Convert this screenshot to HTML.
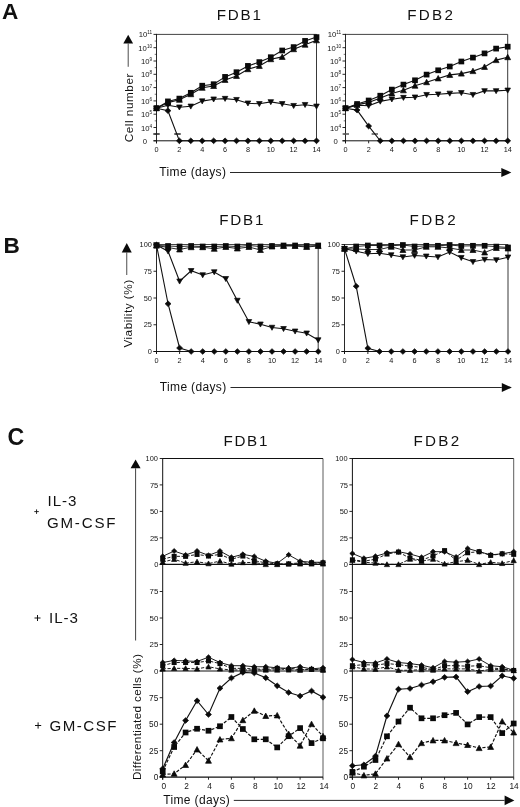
<!DOCTYPE html>
<html><head><meta charset="utf-8"><title>Figure</title>
<style>
html,body{margin:0;padding:0;background:#fff;}
body{width:520px;height:807px;overflow:hidden;font-family:'Liberation Sans', sans-serif;}
svg{display:block;filter:blur(0.3px);}
svg text{font-family:'Liberation Sans', sans-serif;}
</style></head>
<body>
<svg width="520" height="807" viewBox="0 0 520 807">
<rect x="0" y="0" width="520" height="807" fill="#ffffff"/>
<text x="1.90" y="18.80" font-size="22.6" text-anchor="start" font-weight="bold" fill="#111">A</text>
<text x="216.80" y="19.50" font-size="15.2" text-anchor="start" font-weight="normal" fill="#111" textLength="44.10" lengthAdjust="spacing">FDB1</text>
<text x="407.30" y="19.50" font-size="15.2" text-anchor="start" font-weight="normal" fill="#111" textLength="45.60" lengthAdjust="spacing">FDB2</text>
<line x1="156.50" y1="34.40" x2="316.50" y2="34.40" stroke="#222" stroke-width="0.85" />
<line x1="156.50" y1="33.90" x2="156.50" y2="143.30" stroke="#111" stroke-width="0.9" />
<line x1="316.50" y1="34.40" x2="316.50" y2="140.80" stroke="#222" stroke-width="0.9" />
<line x1="153.50" y1="140.80" x2="316.50" y2="140.80" stroke="#111" stroke-width="1.0" />
<line x1="153.50" y1="140.80" x2="156.50" y2="140.80" stroke="#111" stroke-width="0.9" />
<line x1="154.70" y1="134.15" x2="156.50" y2="134.15" stroke="#111" stroke-width="0.6" />
<text x="147.10" y="143.80" font-size="7.7" text-anchor="end" font-weight="normal" fill="#151515">0</text>
<line x1="153.50" y1="127.50" x2="156.50" y2="127.50" stroke="#111" stroke-width="0.9" />
<line x1="154.70" y1="120.85" x2="156.50" y2="120.85" stroke="#111" stroke-width="0.6" />
<text x="152.10" y="130.50" font-size="7.7" text-anchor="end" font-weight="normal" fill="#151515">10<tspan font-size="4.7" dy="-3.0">4</tspan></text>
<line x1="153.50" y1="114.20" x2="156.50" y2="114.20" stroke="#111" stroke-width="0.9" />
<line x1="154.70" y1="107.55" x2="156.50" y2="107.55" stroke="#111" stroke-width="0.6" />
<text x="152.10" y="117.20" font-size="7.7" text-anchor="end" font-weight="normal" fill="#151515">10<tspan font-size="4.7" dy="-3.0">5</tspan></text>
<line x1="153.50" y1="100.90" x2="156.50" y2="100.90" stroke="#111" stroke-width="0.9" />
<line x1="154.70" y1="94.25" x2="156.50" y2="94.25" stroke="#111" stroke-width="0.6" />
<text x="152.10" y="103.90" font-size="7.7" text-anchor="end" font-weight="normal" fill="#151515">10<tspan font-size="4.7" dy="-3.0">6</tspan></text>
<line x1="153.50" y1="87.60" x2="156.50" y2="87.60" stroke="#111" stroke-width="0.9" />
<line x1="154.70" y1="80.95" x2="156.50" y2="80.95" stroke="#111" stroke-width="0.6" />
<text x="152.10" y="90.60" font-size="7.7" text-anchor="end" font-weight="normal" fill="#151515">10<tspan font-size="4.7" dy="-3.0">7</tspan></text>
<line x1="153.50" y1="74.30" x2="156.50" y2="74.30" stroke="#111" stroke-width="0.9" />
<line x1="154.70" y1="67.65" x2="156.50" y2="67.65" stroke="#111" stroke-width="0.6" />
<text x="152.10" y="77.30" font-size="7.7" text-anchor="end" font-weight="normal" fill="#151515">10<tspan font-size="4.7" dy="-3.0">8</tspan></text>
<line x1="153.50" y1="61.00" x2="156.50" y2="61.00" stroke="#111" stroke-width="0.9" />
<line x1="154.70" y1="54.35" x2="156.50" y2="54.35" stroke="#111" stroke-width="0.6" />
<text x="152.10" y="64.00" font-size="7.7" text-anchor="end" font-weight="normal" fill="#151515">10<tspan font-size="4.7" dy="-3.0">9</tspan></text>
<line x1="153.50" y1="47.70" x2="156.50" y2="47.70" stroke="#111" stroke-width="0.9" />
<line x1="154.70" y1="41.05" x2="156.50" y2="41.05" stroke="#111" stroke-width="0.6" />
<text x="152.10" y="50.70" font-size="7.7" text-anchor="end" font-weight="normal" fill="#151515">10<tspan font-size="4.7" dy="-3.0">10</tspan></text>
<line x1="153.50" y1="34.40" x2="156.50" y2="34.40" stroke="#111" stroke-width="0.9" />
<text x="152.10" y="37.40" font-size="7.7" text-anchor="end" font-weight="normal" fill="#151515">10<tspan font-size="4.7" dy="-3.0">11</tspan></text>
<line x1="156.50" y1="140.80" x2="156.50" y2="143.30" stroke="#111" stroke-width="0.9" />
<text x="156.50" y="152.10" font-size="7.3" text-anchor="middle" font-weight="normal" fill="#151515">0</text>
<line x1="179.36" y1="140.80" x2="179.36" y2="143.30" stroke="#111" stroke-width="0.9" />
<text x="179.36" y="152.10" font-size="7.3" text-anchor="middle" font-weight="normal" fill="#151515">2</text>
<line x1="202.21" y1="140.80" x2="202.21" y2="143.30" stroke="#111" stroke-width="0.9" />
<text x="202.21" y="152.10" font-size="7.3" text-anchor="middle" font-weight="normal" fill="#151515">4</text>
<line x1="225.07" y1="140.80" x2="225.07" y2="143.30" stroke="#111" stroke-width="0.9" />
<text x="225.07" y="152.10" font-size="7.3" text-anchor="middle" font-weight="normal" fill="#151515">6</text>
<line x1="247.93" y1="140.80" x2="247.93" y2="143.30" stroke="#111" stroke-width="0.9" />
<text x="247.93" y="152.10" font-size="7.3" text-anchor="middle" font-weight="normal" fill="#151515">8</text>
<line x1="270.79" y1="140.80" x2="270.79" y2="143.30" stroke="#111" stroke-width="0.9" />
<text x="270.79" y="152.10" font-size="7.3" text-anchor="middle" font-weight="normal" fill="#151515">10</text>
<line x1="293.64" y1="140.80" x2="293.64" y2="143.30" stroke="#111" stroke-width="0.9" />
<text x="293.64" y="152.10" font-size="7.3" text-anchor="middle" font-weight="normal" fill="#151515">12</text>
<line x1="316.50" y1="140.80" x2="316.50" y2="143.30" stroke="#111" stroke-width="0.9" />
<text x="316.50" y="152.10" font-size="7.3" text-anchor="middle" font-weight="normal" fill="#151515">14</text>
<line x1="153.30" y1="134.00" x2="159.70" y2="134.00" stroke="#222" stroke-width="1.5" />
<line x1="174.30" y1="134.00" x2="180.70" y2="134.00" stroke="#222" stroke-width="1.5" />
<path d="M156.50 108.20L167.93 105.30L179.36 107.20L190.79 106.30L202.21 101.10L213.64 99.20L225.07 98.60L236.50 99.70L247.93 103.20L259.36 103.80L270.79 101.90L282.21 103.80L293.64 105.70L305.07 104.70L316.50 106.30" fill="none" stroke="#111" stroke-width="1.1"/>
<path d="M153.70 105.96L159.30 105.96L156.50 111.00Z" fill="#0a0a0a" stroke="#0a0a0a" stroke-width="0.7" stroke-linejoin="round"/>
<path d="M165.13 103.06L170.73 103.06L167.93 108.10Z" fill="#0a0a0a" stroke="#0a0a0a" stroke-width="0.7" stroke-linejoin="round"/>
<path d="M176.56 104.96L182.16 104.96L179.36 110.00Z" fill="#0a0a0a" stroke="#0a0a0a" stroke-width="0.7" stroke-linejoin="round"/>
<path d="M187.99 104.06L193.59 104.06L190.79 109.10Z" fill="#0a0a0a" stroke="#0a0a0a" stroke-width="0.7" stroke-linejoin="round"/>
<path d="M199.41 98.86L205.01 98.86L202.21 103.90Z" fill="#0a0a0a" stroke="#0a0a0a" stroke-width="0.7" stroke-linejoin="round"/>
<path d="M210.84 96.96L216.44 96.96L213.64 102.00Z" fill="#0a0a0a" stroke="#0a0a0a" stroke-width="0.7" stroke-linejoin="round"/>
<path d="M222.27 96.36L227.87 96.36L225.07 101.40Z" fill="#0a0a0a" stroke="#0a0a0a" stroke-width="0.7" stroke-linejoin="round"/>
<path d="M233.70 97.46L239.30 97.46L236.50 102.50Z" fill="#0a0a0a" stroke="#0a0a0a" stroke-width="0.7" stroke-linejoin="round"/>
<path d="M245.13 100.96L250.73 100.96L247.93 106.00Z" fill="#0a0a0a" stroke="#0a0a0a" stroke-width="0.7" stroke-linejoin="round"/>
<path d="M256.56 101.56L262.16 101.56L259.36 106.60Z" fill="#0a0a0a" stroke="#0a0a0a" stroke-width="0.7" stroke-linejoin="round"/>
<path d="M267.99 99.66L273.59 99.66L270.79 104.70Z" fill="#0a0a0a" stroke="#0a0a0a" stroke-width="0.7" stroke-linejoin="round"/>
<path d="M279.41 101.56L285.01 101.56L282.21 106.60Z" fill="#0a0a0a" stroke="#0a0a0a" stroke-width="0.7" stroke-linejoin="round"/>
<path d="M290.84 103.46L296.44 103.46L293.64 108.50Z" fill="#0a0a0a" stroke="#0a0a0a" stroke-width="0.7" stroke-linejoin="round"/>
<path d="M302.27 102.46L307.87 102.46L305.07 107.50Z" fill="#0a0a0a" stroke="#0a0a0a" stroke-width="0.7" stroke-linejoin="round"/>
<path d="M313.70 104.06L319.30 104.06L316.50 109.10Z" fill="#0a0a0a" stroke="#0a0a0a" stroke-width="0.7" stroke-linejoin="round"/>
<path d="M156.50 108.20L167.93 102.60L179.36 99.80L190.79 94.20L202.21 87.80L213.64 86.00L225.07 79.90L236.50 75.90L247.93 69.20L259.36 65.90L270.79 59.20L282.21 56.90L293.64 49.20L305.07 44.70L316.50 40.30" fill="none" stroke="#111" stroke-width="1.1"/>
<path d="M153.55 110.71L159.45 110.71L156.50 105.25Z" fill="#0a0a0a" stroke="#0a0a0a" stroke-width="0.7" stroke-linejoin="round"/>
<path d="M164.98 105.11L170.88 105.11L167.93 99.65Z" fill="#0a0a0a" stroke="#0a0a0a" stroke-width="0.7" stroke-linejoin="round"/>
<path d="M176.41 102.31L182.31 102.31L179.36 96.85Z" fill="#0a0a0a" stroke="#0a0a0a" stroke-width="0.7" stroke-linejoin="round"/>
<path d="M187.84 96.71L193.74 96.71L190.79 91.25Z" fill="#0a0a0a" stroke="#0a0a0a" stroke-width="0.7" stroke-linejoin="round"/>
<path d="M199.26 90.31L205.16 90.31L202.21 84.85Z" fill="#0a0a0a" stroke="#0a0a0a" stroke-width="0.7" stroke-linejoin="round"/>
<path d="M210.69 88.51L216.59 88.51L213.64 83.05Z" fill="#0a0a0a" stroke="#0a0a0a" stroke-width="0.7" stroke-linejoin="round"/>
<path d="M222.12 82.41L228.02 82.41L225.07 76.95Z" fill="#0a0a0a" stroke="#0a0a0a" stroke-width="0.7" stroke-linejoin="round"/>
<path d="M233.55 78.41L239.45 78.41L236.50 72.95Z" fill="#0a0a0a" stroke="#0a0a0a" stroke-width="0.7" stroke-linejoin="round"/>
<path d="M244.98 71.71L250.88 71.71L247.93 66.25Z" fill="#0a0a0a" stroke="#0a0a0a" stroke-width="0.7" stroke-linejoin="round"/>
<path d="M256.41 68.41L262.31 68.41L259.36 62.95Z" fill="#0a0a0a" stroke="#0a0a0a" stroke-width="0.7" stroke-linejoin="round"/>
<path d="M267.84 61.71L273.74 61.71L270.79 56.25Z" fill="#0a0a0a" stroke="#0a0a0a" stroke-width="0.7" stroke-linejoin="round"/>
<path d="M279.26 59.41L285.16 59.41L282.21 53.95Z" fill="#0a0a0a" stroke="#0a0a0a" stroke-width="0.7" stroke-linejoin="round"/>
<path d="M290.69 51.71L296.59 51.71L293.64 46.25Z" fill="#0a0a0a" stroke="#0a0a0a" stroke-width="0.7" stroke-linejoin="round"/>
<path d="M302.12 47.21L308.02 47.21L305.07 41.75Z" fill="#0a0a0a" stroke="#0a0a0a" stroke-width="0.7" stroke-linejoin="round"/>
<path d="M313.55 42.81L319.45 42.81L316.50 37.35Z" fill="#0a0a0a" stroke="#0a0a0a" stroke-width="0.7" stroke-linejoin="round"/>
<path d="M156.50 108.20L167.93 101.40L179.36 98.60L190.79 92.80L202.21 85.70L213.64 84.20L225.07 76.90L236.50 72.20L247.93 65.90L259.36 62.10L270.79 57.20L282.21 50.50L293.64 47.10L305.07 40.90L316.50 37.10" fill="none" stroke="#111" stroke-width="1.1"/>
<rect x="153.65" y="105.35" width="5.70" height="5.70" fill="#0a0a0a"/>
<rect x="165.08" y="98.55" width="5.70" height="5.70" fill="#0a0a0a"/>
<rect x="176.51" y="95.75" width="5.70" height="5.70" fill="#0a0a0a"/>
<rect x="187.94" y="89.95" width="5.70" height="5.70" fill="#0a0a0a"/>
<rect x="199.36" y="82.85" width="5.70" height="5.70" fill="#0a0a0a"/>
<rect x="210.79" y="81.35" width="5.70" height="5.70" fill="#0a0a0a"/>
<rect x="222.22" y="74.05" width="5.70" height="5.70" fill="#0a0a0a"/>
<rect x="233.65" y="69.35" width="5.70" height="5.70" fill="#0a0a0a"/>
<rect x="245.08" y="63.05" width="5.70" height="5.70" fill="#0a0a0a"/>
<rect x="256.51" y="59.25" width="5.70" height="5.70" fill="#0a0a0a"/>
<rect x="267.94" y="54.35" width="5.70" height="5.70" fill="#0a0a0a"/>
<rect x="279.36" y="47.65" width="5.70" height="5.70" fill="#0a0a0a"/>
<rect x="290.79" y="44.25" width="5.70" height="5.70" fill="#0a0a0a"/>
<rect x="302.22" y="38.05" width="5.70" height="5.70" fill="#0a0a0a"/>
<rect x="313.65" y="34.25" width="5.70" height="5.70" fill="#0a0a0a"/>
<path d="M156.50 108.20L167.93 110.70L179.36 140.80L190.79 140.80L202.21 140.80L213.64 140.80L225.07 140.80L236.50 140.80L247.93 140.80L259.36 140.80L270.79 140.80L282.21 140.80L293.64 140.80L305.07 140.80L316.50 140.80" fill="none" stroke="#111" stroke-width="1.1"/>
<path d="M153.55 108.20L156.50 105.35L159.45 108.20L156.50 111.05Z" fill="#0a0a0a" stroke="#0a0a0a" stroke-width="0.7" stroke-linejoin="round"/>
<path d="M164.98 110.70L167.93 107.85L170.88 110.70L167.93 113.55Z" fill="#0a0a0a" stroke="#0a0a0a" stroke-width="0.7" stroke-linejoin="round"/>
<path d="M176.41 140.80L179.36 137.95L182.31 140.80L179.36 143.65Z" fill="#0a0a0a" stroke="#0a0a0a" stroke-width="0.7" stroke-linejoin="round"/>
<path d="M187.84 140.80L190.79 137.95L193.74 140.80L190.79 143.65Z" fill="#0a0a0a" stroke="#0a0a0a" stroke-width="0.7" stroke-linejoin="round"/>
<path d="M199.26 140.80L202.21 137.95L205.16 140.80L202.21 143.65Z" fill="#0a0a0a" stroke="#0a0a0a" stroke-width="0.7" stroke-linejoin="round"/>
<path d="M210.69 140.80L213.64 137.95L216.59 140.80L213.64 143.65Z" fill="#0a0a0a" stroke="#0a0a0a" stroke-width="0.7" stroke-linejoin="round"/>
<path d="M222.12 140.80L225.07 137.95L228.02 140.80L225.07 143.65Z" fill="#0a0a0a" stroke="#0a0a0a" stroke-width="0.7" stroke-linejoin="round"/>
<path d="M233.55 140.80L236.50 137.95L239.45 140.80L236.50 143.65Z" fill="#0a0a0a" stroke="#0a0a0a" stroke-width="0.7" stroke-linejoin="round"/>
<path d="M244.98 140.80L247.93 137.95L250.88 140.80L247.93 143.65Z" fill="#0a0a0a" stroke="#0a0a0a" stroke-width="0.7" stroke-linejoin="round"/>
<path d="M256.41 140.80L259.36 137.95L262.31 140.80L259.36 143.65Z" fill="#0a0a0a" stroke="#0a0a0a" stroke-width="0.7" stroke-linejoin="round"/>
<path d="M267.84 140.80L270.79 137.95L273.74 140.80L270.79 143.65Z" fill="#0a0a0a" stroke="#0a0a0a" stroke-width="0.7" stroke-linejoin="round"/>
<path d="M279.26 140.80L282.21 137.95L285.16 140.80L282.21 143.65Z" fill="#0a0a0a" stroke="#0a0a0a" stroke-width="0.7" stroke-linejoin="round"/>
<path d="M290.69 140.80L293.64 137.95L296.59 140.80L293.64 143.65Z" fill="#0a0a0a" stroke="#0a0a0a" stroke-width="0.7" stroke-linejoin="round"/>
<path d="M302.12 140.80L305.07 137.95L308.02 140.80L305.07 143.65Z" fill="#0a0a0a" stroke="#0a0a0a" stroke-width="0.7" stroke-linejoin="round"/>
<path d="M313.55 140.80L316.50 137.95L319.45 140.80L316.50 143.65Z" fill="#0a0a0a" stroke="#0a0a0a" stroke-width="0.7" stroke-linejoin="round"/>
<line x1="345.50" y1="34.40" x2="507.70" y2="34.40" stroke="#222" stroke-width="0.85" />
<line x1="345.50" y1="33.90" x2="345.50" y2="143.30" stroke="#111" stroke-width="0.9" />
<line x1="507.70" y1="34.40" x2="507.70" y2="140.80" stroke="#222" stroke-width="0.9" />
<line x1="342.50" y1="140.80" x2="507.70" y2="140.80" stroke="#111" stroke-width="1.0" />
<line x1="342.50" y1="140.80" x2="345.50" y2="140.80" stroke="#111" stroke-width="0.9" />
<line x1="343.70" y1="134.15" x2="345.50" y2="134.15" stroke="#111" stroke-width="0.6" />
<text x="337.90" y="143.80" font-size="7.7" text-anchor="end" font-weight="normal" fill="#151515">0</text>
<line x1="342.50" y1="127.50" x2="345.50" y2="127.50" stroke="#111" stroke-width="0.9" />
<line x1="343.70" y1="120.85" x2="345.50" y2="120.85" stroke="#111" stroke-width="0.6" />
<text x="341.10" y="130.50" font-size="7.7" text-anchor="end" font-weight="normal" fill="#151515">10<tspan font-size="4.7" dy="-3.0">4</tspan></text>
<line x1="342.50" y1="114.20" x2="345.50" y2="114.20" stroke="#111" stroke-width="0.9" />
<line x1="343.70" y1="107.55" x2="345.50" y2="107.55" stroke="#111" stroke-width="0.6" />
<text x="341.10" y="117.20" font-size="7.7" text-anchor="end" font-weight="normal" fill="#151515">10<tspan font-size="4.7" dy="-3.0">5</tspan></text>
<line x1="342.50" y1="100.90" x2="345.50" y2="100.90" stroke="#111" stroke-width="0.9" />
<line x1="343.70" y1="94.25" x2="345.50" y2="94.25" stroke="#111" stroke-width="0.6" />
<text x="341.10" y="103.90" font-size="7.7" text-anchor="end" font-weight="normal" fill="#151515">10<tspan font-size="4.7" dy="-3.0">6</tspan></text>
<line x1="342.50" y1="87.60" x2="345.50" y2="87.60" stroke="#111" stroke-width="0.9" />
<line x1="343.70" y1="80.95" x2="345.50" y2="80.95" stroke="#111" stroke-width="0.6" />
<text x="341.10" y="90.60" font-size="7.7" text-anchor="end" font-weight="normal" fill="#151515">10<tspan font-size="4.7" dy="-3.0">7</tspan></text>
<line x1="342.50" y1="74.30" x2="345.50" y2="74.30" stroke="#111" stroke-width="0.9" />
<line x1="343.70" y1="67.65" x2="345.50" y2="67.65" stroke="#111" stroke-width="0.6" />
<text x="341.10" y="77.30" font-size="7.7" text-anchor="end" font-weight="normal" fill="#151515">10<tspan font-size="4.7" dy="-3.0">8</tspan></text>
<line x1="342.50" y1="61.00" x2="345.50" y2="61.00" stroke="#111" stroke-width="0.9" />
<line x1="343.70" y1="54.35" x2="345.50" y2="54.35" stroke="#111" stroke-width="0.6" />
<text x="341.10" y="64.00" font-size="7.7" text-anchor="end" font-weight="normal" fill="#151515">10<tspan font-size="4.7" dy="-3.0">9</tspan></text>
<line x1="342.50" y1="47.70" x2="345.50" y2="47.70" stroke="#111" stroke-width="0.9" />
<line x1="343.70" y1="41.05" x2="345.50" y2="41.05" stroke="#111" stroke-width="0.6" />
<text x="341.10" y="50.70" font-size="7.7" text-anchor="end" font-weight="normal" fill="#151515">10<tspan font-size="4.7" dy="-3.0">10</tspan></text>
<line x1="342.50" y1="34.40" x2="345.50" y2="34.40" stroke="#111" stroke-width="0.9" />
<text x="341.10" y="37.40" font-size="7.7" text-anchor="end" font-weight="normal" fill="#151515">10<tspan font-size="4.7" dy="-3.0">11</tspan></text>
<line x1="345.50" y1="140.80" x2="345.50" y2="143.30" stroke="#111" stroke-width="0.9" />
<text x="345.50" y="152.10" font-size="7.3" text-anchor="middle" font-weight="normal" fill="#151515">0</text>
<line x1="368.67" y1="140.80" x2="368.67" y2="143.30" stroke="#111" stroke-width="0.9" />
<text x="368.67" y="152.10" font-size="7.3" text-anchor="middle" font-weight="normal" fill="#151515">2</text>
<line x1="391.84" y1="140.80" x2="391.84" y2="143.30" stroke="#111" stroke-width="0.9" />
<text x="391.84" y="152.10" font-size="7.3" text-anchor="middle" font-weight="normal" fill="#151515">4</text>
<line x1="415.01" y1="140.80" x2="415.01" y2="143.30" stroke="#111" stroke-width="0.9" />
<text x="415.01" y="152.10" font-size="7.3" text-anchor="middle" font-weight="normal" fill="#151515">6</text>
<line x1="438.19" y1="140.80" x2="438.19" y2="143.30" stroke="#111" stroke-width="0.9" />
<text x="438.19" y="152.10" font-size="7.3" text-anchor="middle" font-weight="normal" fill="#151515">8</text>
<line x1="461.36" y1="140.80" x2="461.36" y2="143.30" stroke="#111" stroke-width="0.9" />
<text x="461.36" y="152.10" font-size="7.3" text-anchor="middle" font-weight="normal" fill="#151515">10</text>
<line x1="484.53" y1="140.80" x2="484.53" y2="143.30" stroke="#111" stroke-width="0.9" />
<text x="484.53" y="152.10" font-size="7.3" text-anchor="middle" font-weight="normal" fill="#151515">12</text>
<line x1="507.70" y1="140.80" x2="507.70" y2="143.30" stroke="#111" stroke-width="0.9" />
<text x="507.70" y="152.10" font-size="7.3" text-anchor="middle" font-weight="normal" fill="#151515">14</text>
<line x1="342.60" y1="134.00" x2="349.00" y2="134.00" stroke="#555" stroke-width="1.5" />
<line x1="371.60" y1="134.00" x2="378.00" y2="134.00" stroke="#555" stroke-width="1.5" />
<path d="M345.50 108.20L357.09 105.30L368.67 105.70L380.26 101.40L391.84 99.20L403.43 97.60L415.01 97.20L426.60 94.70L438.19 94.20L449.77 93.40L461.36 92.80L472.94 94.70L484.53 90.90L496.11 90.90L507.70 90.30" fill="none" stroke="#111" stroke-width="1.1"/>
<path d="M342.70 105.96L348.30 105.96L345.50 111.00Z" fill="#0a0a0a" stroke="#0a0a0a" stroke-width="0.7" stroke-linejoin="round"/>
<path d="M354.29 103.06L359.89 103.06L357.09 108.10Z" fill="#0a0a0a" stroke="#0a0a0a" stroke-width="0.7" stroke-linejoin="round"/>
<path d="M365.87 103.46L371.47 103.46L368.67 108.50Z" fill="#0a0a0a" stroke="#0a0a0a" stroke-width="0.7" stroke-linejoin="round"/>
<path d="M377.46 99.16L383.06 99.16L380.26 104.20Z" fill="#0a0a0a" stroke="#0a0a0a" stroke-width="0.7" stroke-linejoin="round"/>
<path d="M389.04 96.96L394.64 96.96L391.84 102.00Z" fill="#0a0a0a" stroke="#0a0a0a" stroke-width="0.7" stroke-linejoin="round"/>
<path d="M400.63 95.36L406.23 95.36L403.43 100.40Z" fill="#0a0a0a" stroke="#0a0a0a" stroke-width="0.7" stroke-linejoin="round"/>
<path d="M412.21 94.96L417.81 94.96L415.01 100.00Z" fill="#0a0a0a" stroke="#0a0a0a" stroke-width="0.7" stroke-linejoin="round"/>
<path d="M423.80 92.46L429.40 92.46L426.60 97.50Z" fill="#0a0a0a" stroke="#0a0a0a" stroke-width="0.7" stroke-linejoin="round"/>
<path d="M435.39 91.96L440.99 91.96L438.19 97.00Z" fill="#0a0a0a" stroke="#0a0a0a" stroke-width="0.7" stroke-linejoin="round"/>
<path d="M446.97 91.16L452.57 91.16L449.77 96.20Z" fill="#0a0a0a" stroke="#0a0a0a" stroke-width="0.7" stroke-linejoin="round"/>
<path d="M458.56 90.56L464.16 90.56L461.36 95.60Z" fill="#0a0a0a" stroke="#0a0a0a" stroke-width="0.7" stroke-linejoin="round"/>
<path d="M470.14 92.46L475.74 92.46L472.94 97.50Z" fill="#0a0a0a" stroke="#0a0a0a" stroke-width="0.7" stroke-linejoin="round"/>
<path d="M481.73 88.66L487.33 88.66L484.53 93.70Z" fill="#0a0a0a" stroke="#0a0a0a" stroke-width="0.7" stroke-linejoin="round"/>
<path d="M493.31 88.66L498.91 88.66L496.11 93.70Z" fill="#0a0a0a" stroke="#0a0a0a" stroke-width="0.7" stroke-linejoin="round"/>
<path d="M504.90 88.06L510.50 88.06L507.70 93.10Z" fill="#0a0a0a" stroke="#0a0a0a" stroke-width="0.7" stroke-linejoin="round"/>
<path d="M345.50 108.20L357.09 104.90L368.67 102.40L380.26 98.00L391.84 93.40L403.43 90.30L415.01 85.70L426.60 82.20L438.19 78.40L449.77 74.90L461.36 73.60L472.94 71.10L484.53 66.90L496.11 60.10L507.70 57.20" fill="none" stroke="#111" stroke-width="1.1"/>
<path d="M342.55 110.71L348.45 110.71L345.50 105.25Z" fill="#0a0a0a" stroke="#0a0a0a" stroke-width="0.7" stroke-linejoin="round"/>
<path d="M354.14 107.41L360.04 107.41L357.09 101.95Z" fill="#0a0a0a" stroke="#0a0a0a" stroke-width="0.7" stroke-linejoin="round"/>
<path d="M365.72 104.91L371.62 104.91L368.67 99.45Z" fill="#0a0a0a" stroke="#0a0a0a" stroke-width="0.7" stroke-linejoin="round"/>
<path d="M377.31 100.51L383.21 100.51L380.26 95.05Z" fill="#0a0a0a" stroke="#0a0a0a" stroke-width="0.7" stroke-linejoin="round"/>
<path d="M388.89 95.91L394.79 95.91L391.84 90.45Z" fill="#0a0a0a" stroke="#0a0a0a" stroke-width="0.7" stroke-linejoin="round"/>
<path d="M400.48 92.81L406.38 92.81L403.43 87.35Z" fill="#0a0a0a" stroke="#0a0a0a" stroke-width="0.7" stroke-linejoin="round"/>
<path d="M412.06 88.21L417.96 88.21L415.01 82.75Z" fill="#0a0a0a" stroke="#0a0a0a" stroke-width="0.7" stroke-linejoin="round"/>
<path d="M423.65 84.71L429.55 84.71L426.60 79.25Z" fill="#0a0a0a" stroke="#0a0a0a" stroke-width="0.7" stroke-linejoin="round"/>
<path d="M435.24 80.91L441.14 80.91L438.19 75.45Z" fill="#0a0a0a" stroke="#0a0a0a" stroke-width="0.7" stroke-linejoin="round"/>
<path d="M446.82 77.41L452.72 77.41L449.77 71.95Z" fill="#0a0a0a" stroke="#0a0a0a" stroke-width="0.7" stroke-linejoin="round"/>
<path d="M458.41 76.11L464.31 76.11L461.36 70.65Z" fill="#0a0a0a" stroke="#0a0a0a" stroke-width="0.7" stroke-linejoin="round"/>
<path d="M469.99 73.61L475.89 73.61L472.94 68.15Z" fill="#0a0a0a" stroke="#0a0a0a" stroke-width="0.7" stroke-linejoin="round"/>
<path d="M481.58 69.41L487.48 69.41L484.53 63.95Z" fill="#0a0a0a" stroke="#0a0a0a" stroke-width="0.7" stroke-linejoin="round"/>
<path d="M493.16 62.61L499.06 62.61L496.11 57.15Z" fill="#0a0a0a" stroke="#0a0a0a" stroke-width="0.7" stroke-linejoin="round"/>
<path d="M504.75 59.71L510.65 59.71L507.70 54.25Z" fill="#0a0a0a" stroke="#0a0a0a" stroke-width="0.7" stroke-linejoin="round"/>
<path d="M345.50 108.20L357.09 104.00L368.67 100.50L380.26 95.70L391.84 89.60L403.43 84.60L415.01 80.30L426.60 74.60L438.19 70.30L449.77 66.50L461.36 61.50L472.94 57.60L484.53 53.40L496.11 48.60L507.70 46.70" fill="none" stroke="#111" stroke-width="1.1"/>
<rect x="342.65" y="105.35" width="5.70" height="5.70" fill="#0a0a0a"/>
<rect x="354.24" y="101.15" width="5.70" height="5.70" fill="#0a0a0a"/>
<rect x="365.82" y="97.65" width="5.70" height="5.70" fill="#0a0a0a"/>
<rect x="377.41" y="92.85" width="5.70" height="5.70" fill="#0a0a0a"/>
<rect x="388.99" y="86.75" width="5.70" height="5.70" fill="#0a0a0a"/>
<rect x="400.58" y="81.75" width="5.70" height="5.70" fill="#0a0a0a"/>
<rect x="412.16" y="77.45" width="5.70" height="5.70" fill="#0a0a0a"/>
<rect x="423.75" y="71.75" width="5.70" height="5.70" fill="#0a0a0a"/>
<rect x="435.34" y="67.45" width="5.70" height="5.70" fill="#0a0a0a"/>
<rect x="446.92" y="63.65" width="5.70" height="5.70" fill="#0a0a0a"/>
<rect x="458.51" y="58.65" width="5.70" height="5.70" fill="#0a0a0a"/>
<rect x="470.09" y="54.75" width="5.70" height="5.70" fill="#0a0a0a"/>
<rect x="481.68" y="50.55" width="5.70" height="5.70" fill="#0a0a0a"/>
<rect x="493.26" y="45.75" width="5.70" height="5.70" fill="#0a0a0a"/>
<rect x="504.85" y="43.85" width="5.70" height="5.70" fill="#0a0a0a"/>
<path d="M345.50 108.20L357.09 110.10L368.67 126.10L380.26 140.80L391.84 140.80L403.43 140.80L415.01 140.80L426.60 140.80L438.19 140.80L449.77 140.80L461.36 140.80L472.94 140.80L484.53 140.80L496.11 140.80L507.70 140.80" fill="none" stroke="#111" stroke-width="1.1"/>
<path d="M342.55 108.20L345.50 105.35L348.45 108.20L345.50 111.05Z" fill="#0a0a0a" stroke="#0a0a0a" stroke-width="0.7" stroke-linejoin="round"/>
<path d="M354.14 110.10L357.09 107.25L360.04 110.10L357.09 112.95Z" fill="#0a0a0a" stroke="#0a0a0a" stroke-width="0.7" stroke-linejoin="round"/>
<path d="M365.72 126.10L368.67 123.25L371.62 126.10L368.67 128.95Z" fill="#0a0a0a" stroke="#0a0a0a" stroke-width="0.7" stroke-linejoin="round"/>
<path d="M377.31 140.80L380.26 137.95L383.21 140.80L380.26 143.65Z" fill="#0a0a0a" stroke="#0a0a0a" stroke-width="0.7" stroke-linejoin="round"/>
<path d="M388.89 140.80L391.84 137.95L394.79 140.80L391.84 143.65Z" fill="#0a0a0a" stroke="#0a0a0a" stroke-width="0.7" stroke-linejoin="round"/>
<path d="M400.48 140.80L403.43 137.95L406.38 140.80L403.43 143.65Z" fill="#0a0a0a" stroke="#0a0a0a" stroke-width="0.7" stroke-linejoin="round"/>
<path d="M412.06 140.80L415.01 137.95L417.96 140.80L415.01 143.65Z" fill="#0a0a0a" stroke="#0a0a0a" stroke-width="0.7" stroke-linejoin="round"/>
<path d="M423.65 140.80L426.60 137.95L429.55 140.80L426.60 143.65Z" fill="#0a0a0a" stroke="#0a0a0a" stroke-width="0.7" stroke-linejoin="round"/>
<path d="M435.24 140.80L438.19 137.95L441.14 140.80L438.19 143.65Z" fill="#0a0a0a" stroke="#0a0a0a" stroke-width="0.7" stroke-linejoin="round"/>
<path d="M446.82 140.80L449.77 137.95L452.72 140.80L449.77 143.65Z" fill="#0a0a0a" stroke="#0a0a0a" stroke-width="0.7" stroke-linejoin="round"/>
<path d="M458.41 140.80L461.36 137.95L464.31 140.80L461.36 143.65Z" fill="#0a0a0a" stroke="#0a0a0a" stroke-width="0.7" stroke-linejoin="round"/>
<path d="M469.99 140.80L472.94 137.95L475.89 140.80L472.94 143.65Z" fill="#0a0a0a" stroke="#0a0a0a" stroke-width="0.7" stroke-linejoin="round"/>
<path d="M481.58 140.80L484.53 137.95L487.48 140.80L484.53 143.65Z" fill="#0a0a0a" stroke="#0a0a0a" stroke-width="0.7" stroke-linejoin="round"/>
<path d="M493.16 140.80L496.11 137.95L499.06 140.80L496.11 143.65Z" fill="#0a0a0a" stroke="#0a0a0a" stroke-width="0.7" stroke-linejoin="round"/>
<path d="M504.75 140.80L507.70 137.95L510.65 140.80L507.70 143.65Z" fill="#0a0a0a" stroke="#0a0a0a" stroke-width="0.7" stroke-linejoin="round"/>
<text x="132.90" y="142.30" font-size="11.8" text-anchor="start" font-weight="normal" fill="#111" textLength="68.70" lengthAdjust="spacing" transform="rotate(-90 132.90 142.30)">Cell number</text>
<line x1="128.20" y1="43.60" x2="128.20" y2="66.80" stroke="#111" stroke-width="0.75" />
<path d="M123.30 43.60L133.10 43.60L128.20 34.70Z" fill="#0a0a0a"/>
<text x="159.30" y="175.80" font-size="12" text-anchor="start" font-weight="normal" fill="#111" textLength="66.60" lengthAdjust="spacing">Time (days)</text>
<line x1="230.00" y1="172.50" x2="501.30" y2="172.50" stroke="#111" stroke-width="0.9" />
<path d="M501.30 167.90L501.30 177.10L511.30 172.50Z" fill="#0a0a0a"/>
<text x="3.60" y="253.30" font-size="22.6" text-anchor="start" font-weight="bold" fill="#111">B</text>
<text x="219.30" y="225.00" font-size="15.2" text-anchor="start" font-weight="normal" fill="#111" textLength="44.10" lengthAdjust="spacing">FDB1</text>
<text x="409.50" y="225.00" font-size="15.2" text-anchor="start" font-weight="normal" fill="#111" textLength="46.10" lengthAdjust="spacing">FDB2</text>
<line x1="156.50" y1="244.50" x2="318.20" y2="244.50" stroke="#222" stroke-width="0.85" />
<line x1="156.50" y1="244.00" x2="156.50" y2="354.00" stroke="#111" stroke-width="0.9" />
<line x1="318.20" y1="244.50" x2="318.20" y2="351.50" stroke="#222" stroke-width="0.9" />
<line x1="153.50" y1="351.50" x2="318.20" y2="351.50" stroke="#111" stroke-width="1.0" />
<line x1="153.50" y1="351.50" x2="156.50" y2="351.50" stroke="#111" stroke-width="0.9" />
<text x="151.90" y="354.20" font-size="7.4" text-anchor="end" font-weight="normal" fill="#151515">0</text>
<line x1="153.50" y1="324.75" x2="156.50" y2="324.75" stroke="#111" stroke-width="0.9" />
<text x="151.90" y="327.45" font-size="7.4" text-anchor="end" font-weight="normal" fill="#151515">25</text>
<line x1="153.50" y1="298.00" x2="156.50" y2="298.00" stroke="#111" stroke-width="0.9" />
<text x="151.90" y="300.70" font-size="7.4" text-anchor="end" font-weight="normal" fill="#151515">50</text>
<line x1="153.50" y1="271.25" x2="156.50" y2="271.25" stroke="#111" stroke-width="0.9" />
<text x="151.90" y="273.95" font-size="7.4" text-anchor="end" font-weight="normal" fill="#151515">75</text>
<line x1="153.50" y1="244.50" x2="156.50" y2="244.50" stroke="#111" stroke-width="0.9" />
<text x="151.90" y="247.20" font-size="7.4" text-anchor="end" font-weight="normal" fill="#151515">100</text>
<line x1="156.50" y1="351.50" x2="156.50" y2="354.00" stroke="#111" stroke-width="0.9" />
<text x="156.50" y="362.80" font-size="7.3" text-anchor="middle" font-weight="normal" fill="#151515">0</text>
<line x1="179.60" y1="351.50" x2="179.60" y2="354.00" stroke="#111" stroke-width="0.9" />
<text x="179.60" y="362.80" font-size="7.3" text-anchor="middle" font-weight="normal" fill="#151515">2</text>
<line x1="202.70" y1="351.50" x2="202.70" y2="354.00" stroke="#111" stroke-width="0.9" />
<text x="202.70" y="362.80" font-size="7.3" text-anchor="middle" font-weight="normal" fill="#151515">4</text>
<line x1="225.80" y1="351.50" x2="225.80" y2="354.00" stroke="#111" stroke-width="0.9" />
<text x="225.80" y="362.80" font-size="7.3" text-anchor="middle" font-weight="normal" fill="#151515">6</text>
<line x1="248.90" y1="351.50" x2="248.90" y2="354.00" stroke="#111" stroke-width="0.9" />
<text x="248.90" y="362.80" font-size="7.3" text-anchor="middle" font-weight="normal" fill="#151515">8</text>
<line x1="272.00" y1="351.50" x2="272.00" y2="354.00" stroke="#111" stroke-width="0.9" />
<text x="272.00" y="362.80" font-size="7.3" text-anchor="middle" font-weight="normal" fill="#151515">10</text>
<line x1="295.10" y1="351.50" x2="295.10" y2="354.00" stroke="#111" stroke-width="0.9" />
<text x="295.10" y="362.80" font-size="7.3" text-anchor="middle" font-weight="normal" fill="#151515">12</text>
<line x1="318.20" y1="351.50" x2="318.20" y2="354.00" stroke="#111" stroke-width="0.9" />
<text x="318.20" y="362.80" font-size="7.3" text-anchor="middle" font-weight="normal" fill="#151515">14</text>
<path d="M156.50 245.00L168.05 251.25L179.60 281.25L191.15 270.75L202.70 275.00L214.25 272.00L225.80 278.75L237.35 300.50L248.90 321.75L260.45 324.25L272.00 327.50L283.55 328.75L295.10 331.25L306.65 333.25L318.20 340.00" fill="none" stroke="#111" stroke-width="1.1"/>
<path d="M153.70 242.76L159.30 242.76L156.50 247.80Z" fill="#0a0a0a" stroke="#0a0a0a" stroke-width="0.7" stroke-linejoin="round"/>
<path d="M165.25 249.01L170.85 249.01L168.05 254.05Z" fill="#0a0a0a" stroke="#0a0a0a" stroke-width="0.7" stroke-linejoin="round"/>
<path d="M176.80 279.01L182.40 279.01L179.60 284.05Z" fill="#0a0a0a" stroke="#0a0a0a" stroke-width="0.7" stroke-linejoin="round"/>
<path d="M188.35 268.51L193.95 268.51L191.15 273.55Z" fill="#0a0a0a" stroke="#0a0a0a" stroke-width="0.7" stroke-linejoin="round"/>
<path d="M199.90 272.76L205.50 272.76L202.70 277.80Z" fill="#0a0a0a" stroke="#0a0a0a" stroke-width="0.7" stroke-linejoin="round"/>
<path d="M211.45 269.76L217.05 269.76L214.25 274.80Z" fill="#0a0a0a" stroke="#0a0a0a" stroke-width="0.7" stroke-linejoin="round"/>
<path d="M223.00 276.51L228.60 276.51L225.80 281.55Z" fill="#0a0a0a" stroke="#0a0a0a" stroke-width="0.7" stroke-linejoin="round"/>
<path d="M234.55 298.26L240.15 298.26L237.35 303.30Z" fill="#0a0a0a" stroke="#0a0a0a" stroke-width="0.7" stroke-linejoin="round"/>
<path d="M246.10 319.51L251.70 319.51L248.90 324.55Z" fill="#0a0a0a" stroke="#0a0a0a" stroke-width="0.7" stroke-linejoin="round"/>
<path d="M257.65 322.01L263.25 322.01L260.45 327.05Z" fill="#0a0a0a" stroke="#0a0a0a" stroke-width="0.7" stroke-linejoin="round"/>
<path d="M269.20 325.26L274.80 325.26L272.00 330.30Z" fill="#0a0a0a" stroke="#0a0a0a" stroke-width="0.7" stroke-linejoin="round"/>
<path d="M280.75 326.51L286.35 326.51L283.55 331.55Z" fill="#0a0a0a" stroke="#0a0a0a" stroke-width="0.7" stroke-linejoin="round"/>
<path d="M292.30 329.01L297.90 329.01L295.10 334.05Z" fill="#0a0a0a" stroke="#0a0a0a" stroke-width="0.7" stroke-linejoin="round"/>
<path d="M303.85 331.01L309.45 331.01L306.65 336.05Z" fill="#0a0a0a" stroke="#0a0a0a" stroke-width="0.7" stroke-linejoin="round"/>
<path d="M315.40 337.76L321.00 337.76L318.20 342.80Z" fill="#0a0a0a" stroke="#0a0a0a" stroke-width="0.7" stroke-linejoin="round"/>
<path d="M156.50 245.50L168.05 247.50L179.60 249.50L191.15 247.20L202.70 247.20L214.25 248.80L225.80 247.00L237.35 248.50L248.90 247.00L260.45 250.00L272.00 246.50L283.55 246.00L295.10 246.00L306.65 247.00L318.20 246.00" fill="none" stroke="#111" stroke-width="0.9"/>
<path d="M153.55 248.01L159.45 248.01L156.50 242.55Z" fill="#0a0a0a" stroke="#0a0a0a" stroke-width="0.7" stroke-linejoin="round"/>
<path d="M165.10 250.01L171.00 250.01L168.05 244.55Z" fill="#0a0a0a" stroke="#0a0a0a" stroke-width="0.7" stroke-linejoin="round"/>
<path d="M176.65 252.01L182.55 252.01L179.60 246.55Z" fill="#0a0a0a" stroke="#0a0a0a" stroke-width="0.7" stroke-linejoin="round"/>
<path d="M188.20 249.71L194.10 249.71L191.15 244.25Z" fill="#0a0a0a" stroke="#0a0a0a" stroke-width="0.7" stroke-linejoin="round"/>
<path d="M199.75 249.71L205.65 249.71L202.70 244.25Z" fill="#0a0a0a" stroke="#0a0a0a" stroke-width="0.7" stroke-linejoin="round"/>
<path d="M211.30 251.31L217.20 251.31L214.25 245.85Z" fill="#0a0a0a" stroke="#0a0a0a" stroke-width="0.7" stroke-linejoin="round"/>
<path d="M222.85 249.51L228.75 249.51L225.80 244.05Z" fill="#0a0a0a" stroke="#0a0a0a" stroke-width="0.7" stroke-linejoin="round"/>
<path d="M234.40 251.01L240.30 251.01L237.35 245.55Z" fill="#0a0a0a" stroke="#0a0a0a" stroke-width="0.7" stroke-linejoin="round"/>
<path d="M245.95 249.51L251.85 249.51L248.90 244.05Z" fill="#0a0a0a" stroke="#0a0a0a" stroke-width="0.7" stroke-linejoin="round"/>
<path d="M257.50 252.51L263.40 252.51L260.45 247.05Z" fill="#0a0a0a" stroke="#0a0a0a" stroke-width="0.7" stroke-linejoin="round"/>
<path d="M269.05 249.01L274.95 249.01L272.00 243.55Z" fill="#0a0a0a" stroke="#0a0a0a" stroke-width="0.7" stroke-linejoin="round"/>
<path d="M280.60 248.51L286.50 248.51L283.55 243.05Z" fill="#0a0a0a" stroke="#0a0a0a" stroke-width="0.7" stroke-linejoin="round"/>
<path d="M292.15 248.51L298.05 248.51L295.10 243.05Z" fill="#0a0a0a" stroke="#0a0a0a" stroke-width="0.7" stroke-linejoin="round"/>
<path d="M303.70 249.51L309.60 249.51L306.65 244.05Z" fill="#0a0a0a" stroke="#0a0a0a" stroke-width="0.7" stroke-linejoin="round"/>
<path d="M315.25 248.51L321.15 248.51L318.20 243.05Z" fill="#0a0a0a" stroke="#0a0a0a" stroke-width="0.7" stroke-linejoin="round"/>
<path d="M156.50 245.50L168.05 246.00L179.60 246.50L191.15 246.00L202.70 246.50L214.25 246.50L225.80 246.00L237.35 246.50L248.90 245.50L260.45 246.50L272.00 246.00L283.55 245.50L295.10 245.50L306.65 246.00L318.20 245.50" fill="none" stroke="#111" stroke-width="0.9"/>
<rect x="153.65" y="242.65" width="5.70" height="5.70" fill="#0a0a0a"/>
<rect x="165.20" y="243.15" width="5.70" height="5.70" fill="#0a0a0a"/>
<rect x="176.75" y="243.65" width="5.70" height="5.70" fill="#0a0a0a"/>
<rect x="188.30" y="243.15" width="5.70" height="5.70" fill="#0a0a0a"/>
<rect x="199.85" y="243.65" width="5.70" height="5.70" fill="#0a0a0a"/>
<rect x="211.40" y="243.65" width="5.70" height="5.70" fill="#0a0a0a"/>
<rect x="222.95" y="243.15" width="5.70" height="5.70" fill="#0a0a0a"/>
<rect x="234.50" y="243.65" width="5.70" height="5.70" fill="#0a0a0a"/>
<rect x="246.05" y="242.65" width="5.70" height="5.70" fill="#0a0a0a"/>
<rect x="257.60" y="243.65" width="5.70" height="5.70" fill="#0a0a0a"/>
<rect x="269.15" y="243.15" width="5.70" height="5.70" fill="#0a0a0a"/>
<rect x="280.70" y="242.65" width="5.70" height="5.70" fill="#0a0a0a"/>
<rect x="292.25" y="242.65" width="5.70" height="5.70" fill="#0a0a0a"/>
<rect x="303.80" y="243.15" width="5.70" height="5.70" fill="#0a0a0a"/>
<rect x="315.35" y="242.65" width="5.70" height="5.70" fill="#0a0a0a"/>
<path d="M156.50 245.00L168.05 303.75L179.60 348.00L191.15 351.50L202.70 351.50L214.25 351.50L225.80 351.50L237.35 351.50L248.90 351.50L260.45 351.50L272.00 351.50L283.55 351.50L295.10 351.50L306.65 351.50L318.20 351.50" fill="none" stroke="#111" stroke-width="1.1"/>
<path d="M153.55 245.00L156.50 242.15L159.45 245.00L156.50 247.85Z" fill="#0a0a0a" stroke="#0a0a0a" stroke-width="0.7" stroke-linejoin="round"/>
<path d="M165.10 303.75L168.05 300.90L171.00 303.75L168.05 306.60Z" fill="#0a0a0a" stroke="#0a0a0a" stroke-width="0.7" stroke-linejoin="round"/>
<path d="M176.65 348.00L179.60 345.15L182.55 348.00L179.60 350.85Z" fill="#0a0a0a" stroke="#0a0a0a" stroke-width="0.7" stroke-linejoin="round"/>
<path d="M188.20 351.50L191.15 348.65L194.10 351.50L191.15 354.35Z" fill="#0a0a0a" stroke="#0a0a0a" stroke-width="0.7" stroke-linejoin="round"/>
<path d="M199.75 351.50L202.70 348.65L205.65 351.50L202.70 354.35Z" fill="#0a0a0a" stroke="#0a0a0a" stroke-width="0.7" stroke-linejoin="round"/>
<path d="M211.30 351.50L214.25 348.65L217.20 351.50L214.25 354.35Z" fill="#0a0a0a" stroke="#0a0a0a" stroke-width="0.7" stroke-linejoin="round"/>
<path d="M222.85 351.50L225.80 348.65L228.75 351.50L225.80 354.35Z" fill="#0a0a0a" stroke="#0a0a0a" stroke-width="0.7" stroke-linejoin="round"/>
<path d="M234.40 351.50L237.35 348.65L240.30 351.50L237.35 354.35Z" fill="#0a0a0a" stroke="#0a0a0a" stroke-width="0.7" stroke-linejoin="round"/>
<path d="M245.95 351.50L248.90 348.65L251.85 351.50L248.90 354.35Z" fill="#0a0a0a" stroke="#0a0a0a" stroke-width="0.7" stroke-linejoin="round"/>
<path d="M257.50 351.50L260.45 348.65L263.40 351.50L260.45 354.35Z" fill="#0a0a0a" stroke="#0a0a0a" stroke-width="0.7" stroke-linejoin="round"/>
<path d="M269.05 351.50L272.00 348.65L274.95 351.50L272.00 354.35Z" fill="#0a0a0a" stroke="#0a0a0a" stroke-width="0.7" stroke-linejoin="round"/>
<path d="M280.60 351.50L283.55 348.65L286.50 351.50L283.55 354.35Z" fill="#0a0a0a" stroke="#0a0a0a" stroke-width="0.7" stroke-linejoin="round"/>
<path d="M292.15 351.50L295.10 348.65L298.05 351.50L295.10 354.35Z" fill="#0a0a0a" stroke="#0a0a0a" stroke-width="0.7" stroke-linejoin="round"/>
<path d="M303.70 351.50L306.65 348.65L309.60 351.50L306.65 354.35Z" fill="#0a0a0a" stroke="#0a0a0a" stroke-width="0.7" stroke-linejoin="round"/>
<path d="M315.25 351.50L318.20 348.65L321.15 351.50L318.20 354.35Z" fill="#0a0a0a" stroke="#0a0a0a" stroke-width="0.7" stroke-linejoin="round"/>
<line x1="344.50" y1="244.50" x2="508.00" y2="244.50" stroke="#222" stroke-width="0.85" />
<line x1="344.50" y1="244.00" x2="344.50" y2="354.00" stroke="#111" stroke-width="0.9" />
<line x1="508.00" y1="244.50" x2="508.00" y2="351.50" stroke="#222" stroke-width="0.9" />
<line x1="341.50" y1="351.50" x2="508.00" y2="351.50" stroke="#111" stroke-width="1.0" />
<line x1="341.50" y1="351.50" x2="344.50" y2="351.50" stroke="#111" stroke-width="0.9" />
<text x="339.90" y="354.20" font-size="7.4" text-anchor="end" font-weight="normal" fill="#151515">0</text>
<line x1="341.50" y1="324.75" x2="344.50" y2="324.75" stroke="#111" stroke-width="0.9" />
<text x="339.90" y="327.45" font-size="7.4" text-anchor="end" font-weight="normal" fill="#151515">25</text>
<line x1="341.50" y1="298.00" x2="344.50" y2="298.00" stroke="#111" stroke-width="0.9" />
<text x="339.90" y="300.70" font-size="7.4" text-anchor="end" font-weight="normal" fill="#151515">50</text>
<line x1="341.50" y1="271.25" x2="344.50" y2="271.25" stroke="#111" stroke-width="0.9" />
<text x="339.90" y="273.95" font-size="7.4" text-anchor="end" font-weight="normal" fill="#151515">75</text>
<line x1="341.50" y1="244.50" x2="344.50" y2="244.50" stroke="#111" stroke-width="0.9" />
<text x="339.90" y="247.20" font-size="7.4" text-anchor="end" font-weight="normal" fill="#151515">100</text>
<line x1="344.50" y1="351.50" x2="344.50" y2="354.00" stroke="#111" stroke-width="0.9" />
<text x="344.50" y="362.80" font-size="7.3" text-anchor="middle" font-weight="normal" fill="#151515">0</text>
<line x1="367.86" y1="351.50" x2="367.86" y2="354.00" stroke="#111" stroke-width="0.9" />
<text x="367.86" y="362.80" font-size="7.3" text-anchor="middle" font-weight="normal" fill="#151515">2</text>
<line x1="391.21" y1="351.50" x2="391.21" y2="354.00" stroke="#111" stroke-width="0.9" />
<text x="391.21" y="362.80" font-size="7.3" text-anchor="middle" font-weight="normal" fill="#151515">4</text>
<line x1="414.57" y1="351.50" x2="414.57" y2="354.00" stroke="#111" stroke-width="0.9" />
<text x="414.57" y="362.80" font-size="7.3" text-anchor="middle" font-weight="normal" fill="#151515">6</text>
<line x1="437.93" y1="351.50" x2="437.93" y2="354.00" stroke="#111" stroke-width="0.9" />
<text x="437.93" y="362.80" font-size="7.3" text-anchor="middle" font-weight="normal" fill="#151515">8</text>
<line x1="461.29" y1="351.50" x2="461.29" y2="354.00" stroke="#111" stroke-width="0.9" />
<text x="461.29" y="362.80" font-size="7.3" text-anchor="middle" font-weight="normal" fill="#151515">10</text>
<line x1="484.64" y1="351.50" x2="484.64" y2="354.00" stroke="#111" stroke-width="0.9" />
<text x="484.64" y="362.80" font-size="7.3" text-anchor="middle" font-weight="normal" fill="#151515">12</text>
<line x1="508.00" y1="351.50" x2="508.00" y2="354.00" stroke="#111" stroke-width="0.9" />
<text x="508.00" y="362.80" font-size="7.3" text-anchor="middle" font-weight="normal" fill="#151515">14</text>
<path d="M344.50 248.75L356.18 251.25L367.86 253.75L379.54 253.25L391.21 255.00L402.89 257.00L414.57 255.50L426.25 256.25L437.93 257.00L449.61 252.00L461.29 257.70L472.96 261.80L484.64 259.50L496.32 260.00L508.00 257.20" fill="none" stroke="#111" stroke-width="1.1"/>
<path d="M341.70 246.51L347.30 246.51L344.50 251.55Z" fill="#0a0a0a" stroke="#0a0a0a" stroke-width="0.7" stroke-linejoin="round"/>
<path d="M353.38 249.01L358.98 249.01L356.18 254.05Z" fill="#0a0a0a" stroke="#0a0a0a" stroke-width="0.7" stroke-linejoin="round"/>
<path d="M365.06 251.51L370.66 251.51L367.86 256.55Z" fill="#0a0a0a" stroke="#0a0a0a" stroke-width="0.7" stroke-linejoin="round"/>
<path d="M376.74 251.01L382.34 251.01L379.54 256.05Z" fill="#0a0a0a" stroke="#0a0a0a" stroke-width="0.7" stroke-linejoin="round"/>
<path d="M388.41 252.76L394.01 252.76L391.21 257.80Z" fill="#0a0a0a" stroke="#0a0a0a" stroke-width="0.7" stroke-linejoin="round"/>
<path d="M400.09 254.76L405.69 254.76L402.89 259.80Z" fill="#0a0a0a" stroke="#0a0a0a" stroke-width="0.7" stroke-linejoin="round"/>
<path d="M411.77 253.26L417.37 253.26L414.57 258.30Z" fill="#0a0a0a" stroke="#0a0a0a" stroke-width="0.7" stroke-linejoin="round"/>
<path d="M423.45 254.01L429.05 254.01L426.25 259.05Z" fill="#0a0a0a" stroke="#0a0a0a" stroke-width="0.7" stroke-linejoin="round"/>
<path d="M435.13 254.76L440.73 254.76L437.93 259.80Z" fill="#0a0a0a" stroke="#0a0a0a" stroke-width="0.7" stroke-linejoin="round"/>
<path d="M446.81 249.76L452.41 249.76L449.61 254.80Z" fill="#0a0a0a" stroke="#0a0a0a" stroke-width="0.7" stroke-linejoin="round"/>
<path d="M458.49 255.46L464.09 255.46L461.29 260.50Z" fill="#0a0a0a" stroke="#0a0a0a" stroke-width="0.7" stroke-linejoin="round"/>
<path d="M470.16 259.56L475.76 259.56L472.96 264.60Z" fill="#0a0a0a" stroke="#0a0a0a" stroke-width="0.7" stroke-linejoin="round"/>
<path d="M481.84 257.26L487.44 257.26L484.64 262.30Z" fill="#0a0a0a" stroke="#0a0a0a" stroke-width="0.7" stroke-linejoin="round"/>
<path d="M493.52 257.76L499.12 257.76L496.32 262.80Z" fill="#0a0a0a" stroke="#0a0a0a" stroke-width="0.7" stroke-linejoin="round"/>
<path d="M505.20 254.96L510.80 254.96L508.00 260.00Z" fill="#0a0a0a" stroke="#0a0a0a" stroke-width="0.7" stroke-linejoin="round"/>
<path d="M344.50 248.75L356.18 249.00L367.86 249.50L379.54 249.50L391.21 246.80L402.89 250.00L414.57 250.00L426.25 246.80L437.93 246.80L449.61 248.00L461.29 250.00L472.96 250.00L484.64 252.50L496.32 248.00L508.00 248.50" fill="none" stroke="#111" stroke-width="0.9"/>
<path d="M341.55 251.26L347.45 251.26L344.50 245.80Z" fill="#0a0a0a" stroke="#0a0a0a" stroke-width="0.7" stroke-linejoin="round"/>
<path d="M353.23 251.51L359.13 251.51L356.18 246.05Z" fill="#0a0a0a" stroke="#0a0a0a" stroke-width="0.7" stroke-linejoin="round"/>
<path d="M364.91 252.01L370.81 252.01L367.86 246.55Z" fill="#0a0a0a" stroke="#0a0a0a" stroke-width="0.7" stroke-linejoin="round"/>
<path d="M376.59 252.01L382.49 252.01L379.54 246.55Z" fill="#0a0a0a" stroke="#0a0a0a" stroke-width="0.7" stroke-linejoin="round"/>
<path d="M388.26 249.31L394.16 249.31L391.21 243.85Z" fill="#0a0a0a" stroke="#0a0a0a" stroke-width="0.7" stroke-linejoin="round"/>
<path d="M399.94 252.51L405.84 252.51L402.89 247.05Z" fill="#0a0a0a" stroke="#0a0a0a" stroke-width="0.7" stroke-linejoin="round"/>
<path d="M411.62 252.51L417.52 252.51L414.57 247.05Z" fill="#0a0a0a" stroke="#0a0a0a" stroke-width="0.7" stroke-linejoin="round"/>
<path d="M423.30 249.31L429.20 249.31L426.25 243.85Z" fill="#0a0a0a" stroke="#0a0a0a" stroke-width="0.7" stroke-linejoin="round"/>
<path d="M434.98 249.31L440.88 249.31L437.93 243.85Z" fill="#0a0a0a" stroke="#0a0a0a" stroke-width="0.7" stroke-linejoin="round"/>
<path d="M446.66 250.51L452.56 250.51L449.61 245.05Z" fill="#0a0a0a" stroke="#0a0a0a" stroke-width="0.7" stroke-linejoin="round"/>
<path d="M458.34 252.51L464.24 252.51L461.29 247.05Z" fill="#0a0a0a" stroke="#0a0a0a" stroke-width="0.7" stroke-linejoin="round"/>
<path d="M470.01 252.51L475.91 252.51L472.96 247.05Z" fill="#0a0a0a" stroke="#0a0a0a" stroke-width="0.7" stroke-linejoin="round"/>
<path d="M481.69 255.01L487.59 255.01L484.64 249.55Z" fill="#0a0a0a" stroke="#0a0a0a" stroke-width="0.7" stroke-linejoin="round"/>
<path d="M493.37 250.51L499.27 250.51L496.32 245.05Z" fill="#0a0a0a" stroke="#0a0a0a" stroke-width="0.7" stroke-linejoin="round"/>
<path d="M505.05 251.01L510.95 251.01L508.00 245.55Z" fill="#0a0a0a" stroke="#0a0a0a" stroke-width="0.7" stroke-linejoin="round"/>
<path d="M344.50 248.75L356.18 246.50L367.86 245.50L379.54 245.50L391.21 245.80L402.89 245.00L414.57 246.50L426.25 245.80L437.93 245.80L449.61 245.00L461.29 246.00L472.96 245.80L484.64 245.80L496.32 246.60L508.00 247.50" fill="none" stroke="#111" stroke-width="0.9"/>
<rect x="341.65" y="245.90" width="5.70" height="5.70" fill="#0a0a0a"/>
<rect x="353.33" y="243.65" width="5.70" height="5.70" fill="#0a0a0a"/>
<rect x="365.01" y="242.65" width="5.70" height="5.70" fill="#0a0a0a"/>
<rect x="376.69" y="242.65" width="5.70" height="5.70" fill="#0a0a0a"/>
<rect x="388.36" y="242.95" width="5.70" height="5.70" fill="#0a0a0a"/>
<rect x="400.04" y="242.15" width="5.70" height="5.70" fill="#0a0a0a"/>
<rect x="411.72" y="243.65" width="5.70" height="5.70" fill="#0a0a0a"/>
<rect x="423.40" y="242.95" width="5.70" height="5.70" fill="#0a0a0a"/>
<rect x="435.08" y="242.95" width="5.70" height="5.70" fill="#0a0a0a"/>
<rect x="446.76" y="242.15" width="5.70" height="5.70" fill="#0a0a0a"/>
<rect x="458.44" y="243.15" width="5.70" height="5.70" fill="#0a0a0a"/>
<rect x="470.11" y="242.95" width="5.70" height="5.70" fill="#0a0a0a"/>
<rect x="481.79" y="242.95" width="5.70" height="5.70" fill="#0a0a0a"/>
<rect x="493.47" y="243.75" width="5.70" height="5.70" fill="#0a0a0a"/>
<rect x="505.15" y="244.65" width="5.70" height="5.70" fill="#0a0a0a"/>
<path d="M344.50 248.75L356.18 286.25L367.86 348.25L379.54 351.50L391.21 351.50L402.89 351.50L414.57 351.50L426.25 351.50L437.93 351.50L449.61 351.50L461.29 351.50L472.96 351.50L484.64 351.50L496.32 351.50L508.00 351.50" fill="none" stroke="#111" stroke-width="1.1"/>
<path d="M341.55 248.75L344.50 245.90L347.45 248.75L344.50 251.60Z" fill="#0a0a0a" stroke="#0a0a0a" stroke-width="0.7" stroke-linejoin="round"/>
<path d="M353.23 286.25L356.18 283.40L359.13 286.25L356.18 289.10Z" fill="#0a0a0a" stroke="#0a0a0a" stroke-width="0.7" stroke-linejoin="round"/>
<path d="M364.91 348.25L367.86 345.40L370.81 348.25L367.86 351.10Z" fill="#0a0a0a" stroke="#0a0a0a" stroke-width="0.7" stroke-linejoin="round"/>
<path d="M376.59 351.50L379.54 348.65L382.49 351.50L379.54 354.35Z" fill="#0a0a0a" stroke="#0a0a0a" stroke-width="0.7" stroke-linejoin="round"/>
<path d="M388.26 351.50L391.21 348.65L394.16 351.50L391.21 354.35Z" fill="#0a0a0a" stroke="#0a0a0a" stroke-width="0.7" stroke-linejoin="round"/>
<path d="M399.94 351.50L402.89 348.65L405.84 351.50L402.89 354.35Z" fill="#0a0a0a" stroke="#0a0a0a" stroke-width="0.7" stroke-linejoin="round"/>
<path d="M411.62 351.50L414.57 348.65L417.52 351.50L414.57 354.35Z" fill="#0a0a0a" stroke="#0a0a0a" stroke-width="0.7" stroke-linejoin="round"/>
<path d="M423.30 351.50L426.25 348.65L429.20 351.50L426.25 354.35Z" fill="#0a0a0a" stroke="#0a0a0a" stroke-width="0.7" stroke-linejoin="round"/>
<path d="M434.98 351.50L437.93 348.65L440.88 351.50L437.93 354.35Z" fill="#0a0a0a" stroke="#0a0a0a" stroke-width="0.7" stroke-linejoin="round"/>
<path d="M446.66 351.50L449.61 348.65L452.56 351.50L449.61 354.35Z" fill="#0a0a0a" stroke="#0a0a0a" stroke-width="0.7" stroke-linejoin="round"/>
<path d="M458.34 351.50L461.29 348.65L464.24 351.50L461.29 354.35Z" fill="#0a0a0a" stroke="#0a0a0a" stroke-width="0.7" stroke-linejoin="round"/>
<path d="M470.01 351.50L472.96 348.65L475.91 351.50L472.96 354.35Z" fill="#0a0a0a" stroke="#0a0a0a" stroke-width="0.7" stroke-linejoin="round"/>
<path d="M481.69 351.50L484.64 348.65L487.59 351.50L484.64 354.35Z" fill="#0a0a0a" stroke="#0a0a0a" stroke-width="0.7" stroke-linejoin="round"/>
<path d="M493.37 351.50L496.32 348.65L499.27 351.50L496.32 354.35Z" fill="#0a0a0a" stroke="#0a0a0a" stroke-width="0.7" stroke-linejoin="round"/>
<path d="M505.05 351.50L508.00 348.65L510.95 351.50L508.00 354.35Z" fill="#0a0a0a" stroke="#0a0a0a" stroke-width="0.7" stroke-linejoin="round"/>
<text x="132.50" y="347.60" font-size="11.8" text-anchor="start" font-weight="normal" fill="#111" textLength="67.70" lengthAdjust="spacing" transform="rotate(-90 132.50 347.60)">Viability (%)</text>
<line x1="126.75" y1="252.50" x2="126.75" y2="275.00" stroke="#111" stroke-width="0.75" />
<path d="M121.75 252.50L131.75 252.50L126.75 243.00Z" fill="#0a0a0a"/>
<text x="159.80" y="390.80" font-size="12" text-anchor="start" font-weight="normal" fill="#111" textLength="66.40" lengthAdjust="spacing">Time (days)</text>
<line x1="230.50" y1="387.50" x2="501.80" y2="387.50" stroke="#111" stroke-width="0.9" />
<path d="M501.80 382.90L501.80 392.10L511.80 387.50Z" fill="#0a0a0a"/>
<text x="7.60" y="445.40" font-size="23.2" text-anchor="start" font-weight="bold" fill="#111">C</text>
<text x="223.50" y="446.30" font-size="15.2" text-anchor="start" font-weight="normal" fill="#111" textLength="43.90" lengthAdjust="spacing">FDB1</text>
<text x="413.50" y="446.30" font-size="15.2" text-anchor="start" font-weight="normal" fill="#111" textLength="45.60" lengthAdjust="spacing">FDB2</text>
<line x1="162.70" y1="458.50" x2="323.00" y2="458.50" stroke="#111" stroke-width="1.0" />
<line x1="162.70" y1="458.00" x2="162.70" y2="779.70" stroke="#111" stroke-width="1.0" />
<line x1="323.00" y1="458.50" x2="323.00" y2="777.20" stroke="#333" stroke-width="0.8" />
<line x1="159.70" y1="564.40" x2="323.00" y2="564.40" stroke="#111" stroke-width="1.2" />
<line x1="159.70" y1="671.00" x2="323.00" y2="671.00" stroke="#111" stroke-width="1.2" />
<line x1="159.70" y1="777.20" x2="323.00" y2="777.20" stroke="#111" stroke-width="1.2" />
<text x="157.90" y="461.30" font-size="7.4" text-anchor="end" font-weight="normal" fill="#151515">100</text>
<line x1="159.70" y1="458.50" x2="162.70" y2="458.50" stroke="#111" stroke-width="0.9" />
<line x1="159.70" y1="564.40" x2="162.70" y2="564.40" stroke="#111" stroke-width="0.9" />
<text x="158.30" y="567.17" font-size="7.5" text-anchor="end" font-weight="normal" fill="#151515">0</text>
<line x1="159.70" y1="537.90" x2="162.70" y2="537.90" stroke="#111" stroke-width="0.9" />
<text x="158.30" y="540.67" font-size="7.5" text-anchor="end" font-weight="normal" fill="#151515">25</text>
<line x1="159.70" y1="511.40" x2="162.70" y2="511.40" stroke="#111" stroke-width="0.9" />
<text x="158.30" y="514.17" font-size="7.5" text-anchor="end" font-weight="normal" fill="#151515">50</text>
<line x1="159.70" y1="484.90" x2="162.70" y2="484.90" stroke="#111" stroke-width="0.9" />
<text x="158.30" y="487.67" font-size="7.5" text-anchor="end" font-weight="normal" fill="#151515">75</text>
<line x1="159.70" y1="671.00" x2="162.70" y2="671.00" stroke="#111" stroke-width="0.9" />
<text x="158.30" y="673.92" font-size="7.9" text-anchor="end" font-weight="normal" fill="#151515">0</text>
<line x1="159.70" y1="644.50" x2="162.70" y2="644.50" stroke="#111" stroke-width="0.9" />
<text x="158.30" y="647.42" font-size="7.9" text-anchor="end" font-weight="normal" fill="#151515">25</text>
<line x1="159.70" y1="618.00" x2="162.70" y2="618.00" stroke="#111" stroke-width="0.9" />
<text x="158.30" y="620.92" font-size="7.9" text-anchor="end" font-weight="normal" fill="#151515">50</text>
<line x1="159.70" y1="591.50" x2="162.70" y2="591.50" stroke="#111" stroke-width="0.9" />
<text x="158.30" y="594.42" font-size="7.9" text-anchor="end" font-weight="normal" fill="#151515">75</text>
<line x1="159.70" y1="777.20" x2="162.70" y2="777.20" stroke="#111" stroke-width="0.9" />
<text x="158.30" y="780.27" font-size="8.3" text-anchor="end" font-weight="normal" fill="#151515">0</text>
<line x1="159.70" y1="750.70" x2="162.70" y2="750.70" stroke="#111" stroke-width="0.9" />
<text x="158.30" y="753.77" font-size="8.3" text-anchor="end" font-weight="normal" fill="#151515">25</text>
<line x1="159.70" y1="724.20" x2="162.70" y2="724.20" stroke="#111" stroke-width="0.9" />
<text x="158.30" y="727.27" font-size="8.3" text-anchor="end" font-weight="normal" fill="#151515">50</text>
<line x1="159.70" y1="697.70" x2="162.70" y2="697.70" stroke="#111" stroke-width="0.9" />
<text x="158.30" y="700.77" font-size="8.3" text-anchor="end" font-weight="normal" fill="#151515">75</text>
<line x1="162.70" y1="777.20" x2="162.70" y2="779.70" stroke="#111" stroke-width="0.9" />
<text x="163.70" y="788.90" font-size="8.3" text-anchor="middle" font-weight="normal" fill="#151515">0</text>
<line x1="185.60" y1="777.20" x2="185.60" y2="779.70" stroke="#111" stroke-width="0.9" />
<text x="186.60" y="788.90" font-size="8.3" text-anchor="middle" font-weight="normal" fill="#151515">2</text>
<line x1="208.50" y1="777.20" x2="208.50" y2="779.70" stroke="#111" stroke-width="0.9" />
<text x="209.50" y="788.90" font-size="8.3" text-anchor="middle" font-weight="normal" fill="#151515">4</text>
<line x1="231.40" y1="777.20" x2="231.40" y2="779.70" stroke="#111" stroke-width="0.9" />
<text x="232.40" y="788.90" font-size="8.3" text-anchor="middle" font-weight="normal" fill="#151515">6</text>
<line x1="254.30" y1="777.20" x2="254.30" y2="779.70" stroke="#111" stroke-width="0.9" />
<text x="255.30" y="788.90" font-size="8.3" text-anchor="middle" font-weight="normal" fill="#151515">8</text>
<line x1="277.20" y1="777.20" x2="277.20" y2="779.70" stroke="#111" stroke-width="0.9" />
<text x="278.20" y="788.90" font-size="8.3" text-anchor="middle" font-weight="normal" fill="#151515">10</text>
<line x1="300.10" y1="777.20" x2="300.10" y2="779.70" stroke="#111" stroke-width="0.9" />
<text x="301.10" y="788.90" font-size="8.3" text-anchor="middle" font-weight="normal" fill="#151515">12</text>
<line x1="323.00" y1="777.20" x2="323.00" y2="779.70" stroke="#111" stroke-width="0.9" />
<text x="324.00" y="788.90" font-size="8.3" text-anchor="middle" font-weight="normal" fill="#151515">14</text>
<path d="M162.70 562.07L174.15 559.21L185.60 563.13L197.05 561.75L208.50 563.55L219.95 561.11L231.40 563.98L242.85 562.49L254.30 562.49L265.75 564.40L277.20 564.40L288.65 563.87L300.10 563.87L311.55 563.87L323.00 563.87" fill="none" stroke="#111" stroke-width="0.95" stroke-dasharray="3.2 1.6"/>
<path d="M160.10 564.27L165.30 564.27L162.70 559.47Z" fill="#0a0a0a" stroke="#0a0a0a" stroke-width="0.7" stroke-linejoin="round"/>
<path d="M171.55 561.41L176.75 561.41L174.15 556.61Z" fill="#0a0a0a" stroke="#0a0a0a" stroke-width="0.7" stroke-linejoin="round"/>
<path d="M183.00 565.33L188.20 565.33L185.60 560.53Z" fill="#0a0a0a" stroke="#0a0a0a" stroke-width="0.7" stroke-linejoin="round"/>
<path d="M194.45 563.96L199.65 563.96L197.05 559.15Z" fill="#0a0a0a" stroke="#0a0a0a" stroke-width="0.7" stroke-linejoin="round"/>
<path d="M205.90 565.76L211.10 565.76L208.50 560.96Z" fill="#0a0a0a" stroke="#0a0a0a" stroke-width="0.7" stroke-linejoin="round"/>
<path d="M217.35 563.32L222.55 563.32L219.95 558.52Z" fill="#0a0a0a" stroke="#0a0a0a" stroke-width="0.7" stroke-linejoin="round"/>
<path d="M228.80 566.18L234.00 566.18L231.40 561.38Z" fill="#0a0a0a" stroke="#0a0a0a" stroke-width="0.7" stroke-linejoin="round"/>
<path d="M240.25 564.70L245.45 564.70L242.85 559.90Z" fill="#0a0a0a" stroke="#0a0a0a" stroke-width="0.7" stroke-linejoin="round"/>
<path d="M251.70 564.70L256.90 564.70L254.30 559.90Z" fill="#0a0a0a" stroke="#0a0a0a" stroke-width="0.7" stroke-linejoin="round"/>
<path d="M263.15 566.61L268.35 566.61L265.75 561.80Z" fill="#0a0a0a" stroke="#0a0a0a" stroke-width="0.7" stroke-linejoin="round"/>
<path d="M274.60 566.61L279.80 566.61L277.20 561.80Z" fill="#0a0a0a" stroke="#0a0a0a" stroke-width="0.7" stroke-linejoin="round"/>
<path d="M286.05 566.08L291.25 566.08L288.65 561.27Z" fill="#0a0a0a" stroke="#0a0a0a" stroke-width="0.7" stroke-linejoin="round"/>
<path d="M297.50 566.08L302.70 566.08L300.10 561.27Z" fill="#0a0a0a" stroke="#0a0a0a" stroke-width="0.7" stroke-linejoin="round"/>
<path d="M308.95 566.08L314.15 566.08L311.55 561.27Z" fill="#0a0a0a" stroke="#0a0a0a" stroke-width="0.7" stroke-linejoin="round"/>
<path d="M320.40 566.08L325.60 566.08L323.00 561.27Z" fill="#0a0a0a" stroke="#0a0a0a" stroke-width="0.7" stroke-linejoin="round"/>
<path d="M162.70 559.21L174.15 556.34L185.60 556.34L197.05 554.44L208.50 556.03L219.95 554.44L231.40 559.21L242.85 556.03L254.30 560.69L265.75 562.81L277.20 563.87L288.65 563.87L300.10 562.81L311.55 562.81L323.00 562.81" fill="none" stroke="#111" stroke-width="0.95" stroke-dasharray="3.2 1.6"/>
<rect x="160.19" y="556.70" width="5.02" height="5.02" fill="#0a0a0a"/>
<rect x="171.64" y="553.84" width="5.02" height="5.02" fill="#0a0a0a"/>
<rect x="183.09" y="553.84" width="5.02" height="5.02" fill="#0a0a0a"/>
<rect x="194.54" y="551.93" width="5.02" height="5.02" fill="#0a0a0a"/>
<rect x="205.99" y="553.52" width="5.02" height="5.02" fill="#0a0a0a"/>
<rect x="217.44" y="551.93" width="5.02" height="5.02" fill="#0a0a0a"/>
<rect x="228.89" y="556.70" width="5.02" height="5.02" fill="#0a0a0a"/>
<rect x="240.34" y="553.52" width="5.02" height="5.02" fill="#0a0a0a"/>
<rect x="251.79" y="558.18" width="5.02" height="5.02" fill="#0a0a0a"/>
<rect x="263.24" y="560.30" width="5.02" height="5.02" fill="#0a0a0a"/>
<rect x="274.69" y="561.36" width="5.02" height="5.02" fill="#0a0a0a"/>
<rect x="286.14" y="561.36" width="5.02" height="5.02" fill="#0a0a0a"/>
<rect x="297.59" y="560.30" width="5.02" height="5.02" fill="#0a0a0a"/>
<rect x="309.04" y="560.30" width="5.02" height="5.02" fill="#0a0a0a"/>
<rect x="320.49" y="560.30" width="5.02" height="5.02" fill="#0a0a0a"/>
<path d="M162.70 556.34L174.15 551.04L185.60 554.97L197.05 551.04L208.50 555.39L219.95 551.04L231.40 557.30L242.85 554.33L254.30 556.45L265.75 561.22L277.20 563.34L288.65 554.86L300.10 561.22L311.55 562.28L323.00 562.28" fill="none" stroke="#111" stroke-width="0.95"/>
<path d="M160.10 556.34L162.70 553.84L165.30 556.34L162.70 558.85Z" fill="#0a0a0a" stroke="#0a0a0a" stroke-width="0.7" stroke-linejoin="round"/>
<path d="M171.55 551.04L174.15 548.54L176.75 551.04L174.15 553.55Z" fill="#0a0a0a" stroke="#0a0a0a" stroke-width="0.7" stroke-linejoin="round"/>
<path d="M183.00 554.97L185.60 552.46L188.20 554.97L185.60 557.47Z" fill="#0a0a0a" stroke="#0a0a0a" stroke-width="0.7" stroke-linejoin="round"/>
<path d="M194.45 551.04L197.05 548.54L199.65 551.04L197.05 553.55Z" fill="#0a0a0a" stroke="#0a0a0a" stroke-width="0.7" stroke-linejoin="round"/>
<path d="M205.90 555.39L208.50 552.88L211.10 555.39L208.50 557.90Z" fill="#0a0a0a" stroke="#0a0a0a" stroke-width="0.7" stroke-linejoin="round"/>
<path d="M217.35 551.04L219.95 548.54L222.55 551.04L219.95 553.55Z" fill="#0a0a0a" stroke="#0a0a0a" stroke-width="0.7" stroke-linejoin="round"/>
<path d="M228.80 557.30L231.40 554.79L234.00 557.30L231.40 559.81Z" fill="#0a0a0a" stroke="#0a0a0a" stroke-width="0.7" stroke-linejoin="round"/>
<path d="M240.25 554.33L242.85 551.82L245.45 554.33L242.85 556.84Z" fill="#0a0a0a" stroke="#0a0a0a" stroke-width="0.7" stroke-linejoin="round"/>
<path d="M251.70 556.45L254.30 553.94L256.90 556.45L254.30 558.96Z" fill="#0a0a0a" stroke="#0a0a0a" stroke-width="0.7" stroke-linejoin="round"/>
<path d="M263.15 561.22L265.75 558.71L268.35 561.22L265.75 563.73Z" fill="#0a0a0a" stroke="#0a0a0a" stroke-width="0.7" stroke-linejoin="round"/>
<path d="M274.60 563.34L277.20 560.83L279.80 563.34L277.20 565.85Z" fill="#0a0a0a" stroke="#0a0a0a" stroke-width="0.7" stroke-linejoin="round"/>
<path d="M286.05 554.86L288.65 552.35L291.25 554.86L288.65 557.37Z" fill="#0a0a0a" stroke="#0a0a0a" stroke-width="0.7" stroke-linejoin="round"/>
<path d="M297.50 561.22L300.10 558.71L302.70 561.22L300.10 563.73Z" fill="#0a0a0a" stroke="#0a0a0a" stroke-width="0.7" stroke-linejoin="round"/>
<path d="M308.95 562.28L311.55 559.77L314.15 562.28L311.55 564.79Z" fill="#0a0a0a" stroke="#0a0a0a" stroke-width="0.7" stroke-linejoin="round"/>
<path d="M320.40 562.28L323.00 559.77L325.60 562.28L323.00 564.79Z" fill="#0a0a0a" stroke="#0a0a0a" stroke-width="0.7" stroke-linejoin="round"/>
<path d="M162.70 668.88L174.15 668.35L185.60 668.35L197.05 668.88L208.50 666.76L219.95 668.88L231.40 669.94L242.85 669.94L254.30 669.94L265.75 669.94L277.20 669.94L288.65 667.82L300.10 669.94L311.55 668.88L323.00 669.94" fill="none" stroke="#111" stroke-width="0.95" stroke-dasharray="3.2 1.6"/>
<path d="M160.10 671.09L165.30 671.09L162.70 666.28Z" fill="#0a0a0a" stroke="#0a0a0a" stroke-width="0.7" stroke-linejoin="round"/>
<path d="M171.55 670.56L176.75 670.56L174.15 665.75Z" fill="#0a0a0a" stroke="#0a0a0a" stroke-width="0.7" stroke-linejoin="round"/>
<path d="M183.00 670.56L188.20 670.56L185.60 665.75Z" fill="#0a0a0a" stroke="#0a0a0a" stroke-width="0.7" stroke-linejoin="round"/>
<path d="M194.45 671.09L199.65 671.09L197.05 666.28Z" fill="#0a0a0a" stroke="#0a0a0a" stroke-width="0.7" stroke-linejoin="round"/>
<path d="M205.90 668.97L211.10 668.97L208.50 664.16Z" fill="#0a0a0a" stroke="#0a0a0a" stroke-width="0.7" stroke-linejoin="round"/>
<path d="M217.35 671.09L222.55 671.09L219.95 666.28Z" fill="#0a0a0a" stroke="#0a0a0a" stroke-width="0.7" stroke-linejoin="round"/>
<path d="M228.80 672.15L234.00 672.15L231.40 667.34Z" fill="#0a0a0a" stroke="#0a0a0a" stroke-width="0.7" stroke-linejoin="round"/>
<path d="M240.25 672.15L245.45 672.15L242.85 667.34Z" fill="#0a0a0a" stroke="#0a0a0a" stroke-width="0.7" stroke-linejoin="round"/>
<path d="M251.70 672.15L256.90 672.15L254.30 667.34Z" fill="#0a0a0a" stroke="#0a0a0a" stroke-width="0.7" stroke-linejoin="round"/>
<path d="M263.15 672.15L268.35 672.15L265.75 667.34Z" fill="#0a0a0a" stroke="#0a0a0a" stroke-width="0.7" stroke-linejoin="round"/>
<path d="M274.60 672.15L279.80 672.15L277.20 667.34Z" fill="#0a0a0a" stroke="#0a0a0a" stroke-width="0.7" stroke-linejoin="round"/>
<path d="M286.05 670.03L291.25 670.03L288.65 665.22Z" fill="#0a0a0a" stroke="#0a0a0a" stroke-width="0.7" stroke-linejoin="round"/>
<path d="M297.50 672.15L302.70 672.15L300.10 667.34Z" fill="#0a0a0a" stroke="#0a0a0a" stroke-width="0.7" stroke-linejoin="round"/>
<path d="M308.95 671.09L314.15 671.09L311.55 666.28Z" fill="#0a0a0a" stroke="#0a0a0a" stroke-width="0.7" stroke-linejoin="round"/>
<path d="M320.40 672.15L325.60 672.15L323.00 667.34Z" fill="#0a0a0a" stroke="#0a0a0a" stroke-width="0.7" stroke-linejoin="round"/>
<path d="M162.70 665.70L174.15 662.52L185.60 662.52L197.05 662.52L208.50 660.93L219.95 663.58L231.40 668.35L242.85 668.35L254.30 668.88L265.75 669.41L277.20 668.35L288.65 669.94L300.10 669.94L311.55 669.41L323.00 669.94" fill="none" stroke="#111" stroke-width="0.95" stroke-dasharray="3.2 1.6"/>
<rect x="160.19" y="663.19" width="5.02" height="5.02" fill="#0a0a0a"/>
<rect x="171.64" y="660.01" width="5.02" height="5.02" fill="#0a0a0a"/>
<rect x="183.09" y="660.01" width="5.02" height="5.02" fill="#0a0a0a"/>
<rect x="194.54" y="660.01" width="5.02" height="5.02" fill="#0a0a0a"/>
<rect x="205.99" y="658.42" width="5.02" height="5.02" fill="#0a0a0a"/>
<rect x="217.44" y="661.07" width="5.02" height="5.02" fill="#0a0a0a"/>
<rect x="228.89" y="665.84" width="5.02" height="5.02" fill="#0a0a0a"/>
<rect x="240.34" y="665.84" width="5.02" height="5.02" fill="#0a0a0a"/>
<rect x="251.79" y="666.37" width="5.02" height="5.02" fill="#0a0a0a"/>
<rect x="263.24" y="666.90" width="5.02" height="5.02" fill="#0a0a0a"/>
<rect x="274.69" y="665.84" width="5.02" height="5.02" fill="#0a0a0a"/>
<rect x="286.14" y="667.43" width="5.02" height="5.02" fill="#0a0a0a"/>
<rect x="297.59" y="667.43" width="5.02" height="5.02" fill="#0a0a0a"/>
<rect x="309.04" y="666.90" width="5.02" height="5.02" fill="#0a0a0a"/>
<rect x="320.49" y="667.43" width="5.02" height="5.02" fill="#0a0a0a"/>
<path d="M162.70 662.52L174.15 660.40L185.60 660.93L197.05 661.46L208.50 657.22L219.95 662.52L231.40 665.70L242.85 665.70L254.30 666.76L265.75 666.76L277.20 667.82L288.65 668.35L300.10 666.76L311.55 668.88L323.00 667.82" fill="none" stroke="#111" stroke-width="0.95"/>
<path d="M160.10 662.52L162.70 660.01L165.30 662.52L162.70 665.03Z" fill="#0a0a0a" stroke="#0a0a0a" stroke-width="0.7" stroke-linejoin="round"/>
<path d="M171.55 660.40L174.15 657.89L176.75 660.40L174.15 662.91Z" fill="#0a0a0a" stroke="#0a0a0a" stroke-width="0.7" stroke-linejoin="round"/>
<path d="M183.00 660.93L185.60 658.42L188.20 660.93L185.60 663.44Z" fill="#0a0a0a" stroke="#0a0a0a" stroke-width="0.7" stroke-linejoin="round"/>
<path d="M194.45 661.46L197.05 658.95L199.65 661.46L197.05 663.97Z" fill="#0a0a0a" stroke="#0a0a0a" stroke-width="0.7" stroke-linejoin="round"/>
<path d="M205.90 657.22L208.50 654.71L211.10 657.22L208.50 659.73Z" fill="#0a0a0a" stroke="#0a0a0a" stroke-width="0.7" stroke-linejoin="round"/>
<path d="M217.35 662.52L219.95 660.01L222.55 662.52L219.95 665.03Z" fill="#0a0a0a" stroke="#0a0a0a" stroke-width="0.7" stroke-linejoin="round"/>
<path d="M228.80 665.70L231.40 663.19L234.00 665.70L231.40 668.21Z" fill="#0a0a0a" stroke="#0a0a0a" stroke-width="0.7" stroke-linejoin="round"/>
<path d="M240.25 665.70L242.85 663.19L245.45 665.70L242.85 668.21Z" fill="#0a0a0a" stroke="#0a0a0a" stroke-width="0.7" stroke-linejoin="round"/>
<path d="M251.70 666.76L254.30 664.25L256.90 666.76L254.30 669.27Z" fill="#0a0a0a" stroke="#0a0a0a" stroke-width="0.7" stroke-linejoin="round"/>
<path d="M263.15 666.76L265.75 664.25L268.35 666.76L265.75 669.27Z" fill="#0a0a0a" stroke="#0a0a0a" stroke-width="0.7" stroke-linejoin="round"/>
<path d="M274.60 667.82L277.20 665.31L279.80 667.82L277.20 670.33Z" fill="#0a0a0a" stroke="#0a0a0a" stroke-width="0.7" stroke-linejoin="round"/>
<path d="M286.05 668.35L288.65 665.84L291.25 668.35L288.65 670.86Z" fill="#0a0a0a" stroke="#0a0a0a" stroke-width="0.7" stroke-linejoin="round"/>
<path d="M297.50 666.76L300.10 664.25L302.70 666.76L300.10 669.27Z" fill="#0a0a0a" stroke="#0a0a0a" stroke-width="0.7" stroke-linejoin="round"/>
<path d="M308.95 668.88L311.55 666.37L314.15 668.88L311.55 671.39Z" fill="#0a0a0a" stroke="#0a0a0a" stroke-width="0.7" stroke-linejoin="round"/>
<path d="M320.40 667.82L323.00 665.31L325.60 667.82L323.00 670.33Z" fill="#0a0a0a" stroke="#0a0a0a" stroke-width="0.7" stroke-linejoin="round"/>
<path d="M162.70 774.50L174.15 773.75L185.60 765.00L197.05 749.50L208.50 760.75L219.95 739.50L231.40 738.25L242.85 720.20L254.30 710.80L265.75 716.00L277.20 715.40L288.65 734.00L300.10 745.70L311.55 724.10L323.00 736.20" fill="none" stroke="#111" stroke-width="1.15" stroke-dasharray="3.2 1.6"/>
<path d="M159.75 777.01L165.65 777.01L162.70 771.55Z" fill="#0a0a0a" stroke="#0a0a0a" stroke-width="0.7" stroke-linejoin="round"/>
<path d="M171.20 776.26L177.10 776.26L174.15 770.80Z" fill="#0a0a0a" stroke="#0a0a0a" stroke-width="0.7" stroke-linejoin="round"/>
<path d="M182.65 767.51L188.55 767.51L185.60 762.05Z" fill="#0a0a0a" stroke="#0a0a0a" stroke-width="0.7" stroke-linejoin="round"/>
<path d="M194.10 752.01L200.00 752.01L197.05 746.55Z" fill="#0a0a0a" stroke="#0a0a0a" stroke-width="0.7" stroke-linejoin="round"/>
<path d="M205.55 763.26L211.45 763.26L208.50 757.80Z" fill="#0a0a0a" stroke="#0a0a0a" stroke-width="0.7" stroke-linejoin="round"/>
<path d="M217.00 742.01L222.90 742.01L219.95 736.55Z" fill="#0a0a0a" stroke="#0a0a0a" stroke-width="0.7" stroke-linejoin="round"/>
<path d="M228.45 740.76L234.35 740.76L231.40 735.30Z" fill="#0a0a0a" stroke="#0a0a0a" stroke-width="0.7" stroke-linejoin="round"/>
<path d="M239.90 722.71L245.80 722.71L242.85 717.25Z" fill="#0a0a0a" stroke="#0a0a0a" stroke-width="0.7" stroke-linejoin="round"/>
<path d="M251.35 713.31L257.25 713.31L254.30 707.85Z" fill="#0a0a0a" stroke="#0a0a0a" stroke-width="0.7" stroke-linejoin="round"/>
<path d="M262.80 718.51L268.70 718.51L265.75 713.05Z" fill="#0a0a0a" stroke="#0a0a0a" stroke-width="0.7" stroke-linejoin="round"/>
<path d="M274.25 717.91L280.15 717.91L277.20 712.45Z" fill="#0a0a0a" stroke="#0a0a0a" stroke-width="0.7" stroke-linejoin="round"/>
<path d="M285.70 736.51L291.60 736.51L288.65 731.05Z" fill="#0a0a0a" stroke="#0a0a0a" stroke-width="0.7" stroke-linejoin="round"/>
<path d="M297.15 748.21L303.05 748.21L300.10 742.75Z" fill="#0a0a0a" stroke="#0a0a0a" stroke-width="0.7" stroke-linejoin="round"/>
<path d="M308.60 726.61L314.50 726.61L311.55 721.15Z" fill="#0a0a0a" stroke="#0a0a0a" stroke-width="0.7" stroke-linejoin="round"/>
<path d="M320.05 738.71L325.95 738.71L323.00 733.25Z" fill="#0a0a0a" stroke="#0a0a0a" stroke-width="0.7" stroke-linejoin="round"/>
<path d="M162.70 771.25L174.15 747.00L185.60 732.50L197.05 728.75L208.50 730.75L219.95 726.25L231.40 717.00L242.85 729.00L254.30 739.30L265.75 739.30L277.20 747.40L288.65 736.20L300.10 728.10L311.55 743.10L323.00 738.30" fill="none" stroke="#111" stroke-width="1.15" stroke-dasharray="3.2 1.6"/>
<rect x="159.85" y="768.40" width="5.70" height="5.70" fill="#0a0a0a"/>
<rect x="171.30" y="744.15" width="5.70" height="5.70" fill="#0a0a0a"/>
<rect x="182.75" y="729.65" width="5.70" height="5.70" fill="#0a0a0a"/>
<rect x="194.20" y="725.90" width="5.70" height="5.70" fill="#0a0a0a"/>
<rect x="205.65" y="727.90" width="5.70" height="5.70" fill="#0a0a0a"/>
<rect x="217.10" y="723.40" width="5.70" height="5.70" fill="#0a0a0a"/>
<rect x="228.55" y="714.15" width="5.70" height="5.70" fill="#0a0a0a"/>
<rect x="240.00" y="726.15" width="5.70" height="5.70" fill="#0a0a0a"/>
<rect x="251.45" y="736.45" width="5.70" height="5.70" fill="#0a0a0a"/>
<rect x="262.90" y="736.45" width="5.70" height="5.70" fill="#0a0a0a"/>
<rect x="274.35" y="744.55" width="5.70" height="5.70" fill="#0a0a0a"/>
<rect x="285.80" y="733.35" width="5.70" height="5.70" fill="#0a0a0a"/>
<rect x="297.25" y="725.25" width="5.70" height="5.70" fill="#0a0a0a"/>
<rect x="308.70" y="740.25" width="5.70" height="5.70" fill="#0a0a0a"/>
<rect x="320.15" y="735.45" width="5.70" height="5.70" fill="#0a0a0a"/>
<path d="M162.70 768.75L174.15 742.50L185.60 720.50L197.05 700.75L208.50 714.50L219.95 688.25L231.40 678.00L242.85 672.40L254.30 673.00L265.75 677.80L277.20 685.80L288.65 692.50L300.10 696.00L311.55 691.00L323.00 697.30" fill="none" stroke="#111" stroke-width="1.15"/>
<path d="M159.75 768.75L162.70 765.90L165.65 768.75L162.70 771.60Z" fill="#0a0a0a" stroke="#0a0a0a" stroke-width="0.7" stroke-linejoin="round"/>
<path d="M171.20 742.50L174.15 739.65L177.10 742.50L174.15 745.35Z" fill="#0a0a0a" stroke="#0a0a0a" stroke-width="0.7" stroke-linejoin="round"/>
<path d="M182.65 720.50L185.60 717.65L188.55 720.50L185.60 723.35Z" fill="#0a0a0a" stroke="#0a0a0a" stroke-width="0.7" stroke-linejoin="round"/>
<path d="M194.10 700.75L197.05 697.90L200.00 700.75L197.05 703.60Z" fill="#0a0a0a" stroke="#0a0a0a" stroke-width="0.7" stroke-linejoin="round"/>
<path d="M205.55 714.50L208.50 711.65L211.45 714.50L208.50 717.35Z" fill="#0a0a0a" stroke="#0a0a0a" stroke-width="0.7" stroke-linejoin="round"/>
<path d="M217.00 688.25L219.95 685.40L222.90 688.25L219.95 691.10Z" fill="#0a0a0a" stroke="#0a0a0a" stroke-width="0.7" stroke-linejoin="round"/>
<path d="M228.45 678.00L231.40 675.15L234.35 678.00L231.40 680.85Z" fill="#0a0a0a" stroke="#0a0a0a" stroke-width="0.7" stroke-linejoin="round"/>
<path d="M239.90 672.40L242.85 669.55L245.80 672.40L242.85 675.25Z" fill="#0a0a0a" stroke="#0a0a0a" stroke-width="0.7" stroke-linejoin="round"/>
<path d="M251.35 673.00L254.30 670.15L257.25 673.00L254.30 675.85Z" fill="#0a0a0a" stroke="#0a0a0a" stroke-width="0.7" stroke-linejoin="round"/>
<path d="M262.80 677.80L265.75 674.95L268.70 677.80L265.75 680.65Z" fill="#0a0a0a" stroke="#0a0a0a" stroke-width="0.7" stroke-linejoin="round"/>
<path d="M274.25 685.80L277.20 682.95L280.15 685.80L277.20 688.65Z" fill="#0a0a0a" stroke="#0a0a0a" stroke-width="0.7" stroke-linejoin="round"/>
<path d="M285.70 692.50L288.65 689.65L291.60 692.50L288.65 695.35Z" fill="#0a0a0a" stroke="#0a0a0a" stroke-width="0.7" stroke-linejoin="round"/>
<path d="M297.15 696.00L300.10 693.15L303.05 696.00L300.10 698.85Z" fill="#0a0a0a" stroke="#0a0a0a" stroke-width="0.7" stroke-linejoin="round"/>
<path d="M308.60 691.00L311.55 688.15L314.50 691.00L311.55 693.85Z" fill="#0a0a0a" stroke="#0a0a0a" stroke-width="0.7" stroke-linejoin="round"/>
<path d="M320.05 697.30L323.00 694.45L325.95 697.30L323.00 700.15Z" fill="#0a0a0a" stroke="#0a0a0a" stroke-width="0.7" stroke-linejoin="round"/>
<line x1="352.40" y1="458.50" x2="513.70" y2="458.50" stroke="#111" stroke-width="1.0" />
<line x1="352.40" y1="458.00" x2="352.40" y2="779.70" stroke="#111" stroke-width="1.0" />
<line x1="513.70" y1="458.50" x2="513.70" y2="777.20" stroke="#333" stroke-width="0.8" />
<line x1="349.40" y1="564.40" x2="513.70" y2="564.40" stroke="#111" stroke-width="1.2" />
<line x1="349.40" y1="671.00" x2="513.70" y2="671.00" stroke="#111" stroke-width="1.2" />
<line x1="349.40" y1="777.20" x2="513.70" y2="777.20" stroke="#111" stroke-width="1.2" />
<text x="347.60" y="461.30" font-size="7.4" text-anchor="end" font-weight="normal" fill="#151515">100</text>
<line x1="349.40" y1="458.50" x2="352.40" y2="458.50" stroke="#111" stroke-width="0.9" />
<line x1="349.40" y1="564.40" x2="352.40" y2="564.40" stroke="#111" stroke-width="0.9" />
<text x="348.00" y="567.17" font-size="7.5" text-anchor="end" font-weight="normal" fill="#151515">0</text>
<line x1="349.40" y1="537.90" x2="352.40" y2="537.90" stroke="#111" stroke-width="0.9" />
<text x="348.00" y="540.67" font-size="7.5" text-anchor="end" font-weight="normal" fill="#151515">25</text>
<line x1="349.40" y1="511.40" x2="352.40" y2="511.40" stroke="#111" stroke-width="0.9" />
<text x="348.00" y="514.17" font-size="7.5" text-anchor="end" font-weight="normal" fill="#151515">50</text>
<line x1="349.40" y1="484.90" x2="352.40" y2="484.90" stroke="#111" stroke-width="0.9" />
<text x="348.00" y="487.67" font-size="7.5" text-anchor="end" font-weight="normal" fill="#151515">75</text>
<line x1="349.40" y1="671.00" x2="352.40" y2="671.00" stroke="#111" stroke-width="0.9" />
<text x="348.00" y="673.92" font-size="7.9" text-anchor="end" font-weight="normal" fill="#151515">0</text>
<line x1="349.40" y1="644.50" x2="352.40" y2="644.50" stroke="#111" stroke-width="0.9" />
<text x="348.00" y="647.42" font-size="7.9" text-anchor="end" font-weight="normal" fill="#151515">25</text>
<line x1="349.40" y1="618.00" x2="352.40" y2="618.00" stroke="#111" stroke-width="0.9" />
<text x="348.00" y="620.92" font-size="7.9" text-anchor="end" font-weight="normal" fill="#151515">50</text>
<line x1="349.40" y1="591.50" x2="352.40" y2="591.50" stroke="#111" stroke-width="0.9" />
<text x="348.00" y="594.42" font-size="7.9" text-anchor="end" font-weight="normal" fill="#151515">75</text>
<line x1="349.40" y1="777.20" x2="352.40" y2="777.20" stroke="#111" stroke-width="0.9" />
<text x="348.00" y="780.27" font-size="8.3" text-anchor="end" font-weight="normal" fill="#151515">0</text>
<line x1="349.40" y1="750.70" x2="352.40" y2="750.70" stroke="#111" stroke-width="0.9" />
<text x="348.00" y="753.77" font-size="8.3" text-anchor="end" font-weight="normal" fill="#151515">25</text>
<line x1="349.40" y1="724.20" x2="352.40" y2="724.20" stroke="#111" stroke-width="0.9" />
<text x="348.00" y="727.27" font-size="8.3" text-anchor="end" font-weight="normal" fill="#151515">50</text>
<line x1="349.40" y1="697.70" x2="352.40" y2="697.70" stroke="#111" stroke-width="0.9" />
<text x="348.00" y="700.77" font-size="8.3" text-anchor="end" font-weight="normal" fill="#151515">75</text>
<line x1="352.40" y1="777.20" x2="352.40" y2="779.70" stroke="#111" stroke-width="0.9" />
<text x="352.70" y="788.90" font-size="8.3" text-anchor="middle" font-weight="normal" fill="#151515">0</text>
<line x1="375.44" y1="777.20" x2="375.44" y2="779.70" stroke="#111" stroke-width="0.9" />
<text x="375.74" y="788.90" font-size="8.3" text-anchor="middle" font-weight="normal" fill="#151515">2</text>
<line x1="398.49" y1="777.20" x2="398.49" y2="779.70" stroke="#111" stroke-width="0.9" />
<text x="398.79" y="788.90" font-size="8.3" text-anchor="middle" font-weight="normal" fill="#151515">4</text>
<line x1="421.53" y1="777.20" x2="421.53" y2="779.70" stroke="#111" stroke-width="0.9" />
<text x="421.83" y="788.90" font-size="8.3" text-anchor="middle" font-weight="normal" fill="#151515">6</text>
<line x1="444.57" y1="777.20" x2="444.57" y2="779.70" stroke="#111" stroke-width="0.9" />
<text x="444.87" y="788.90" font-size="8.3" text-anchor="middle" font-weight="normal" fill="#151515">8</text>
<line x1="467.61" y1="777.20" x2="467.61" y2="779.70" stroke="#111" stroke-width="0.9" />
<text x="467.91" y="788.90" font-size="8.3" text-anchor="middle" font-weight="normal" fill="#151515">10</text>
<line x1="490.66" y1="777.20" x2="490.66" y2="779.70" stroke="#111" stroke-width="0.9" />
<text x="490.96" y="788.90" font-size="8.3" text-anchor="middle" font-weight="normal" fill="#151515">12</text>
<line x1="513.70" y1="777.20" x2="513.70" y2="779.70" stroke="#111" stroke-width="0.9" />
<text x="514.00" y="788.90" font-size="8.3" text-anchor="middle" font-weight="normal" fill="#151515">14</text>
<path d="M352.40 560.16L363.92 562.28L375.44 563.02L386.96 564.40L398.49 564.40L410.01 559.10L421.53 561.22L433.05 559.10L444.57 563.87L456.09 561.75L467.61 560.16L479.14 564.40L490.66 562.28L502.18 563.34L513.70 560.48" fill="none" stroke="#111" stroke-width="0.95" stroke-dasharray="3.2 1.6"/>
<path d="M349.80 562.37L355.00 562.37L352.40 557.56Z" fill="#0a0a0a" stroke="#0a0a0a" stroke-width="0.7" stroke-linejoin="round"/>
<path d="M361.33 564.49L366.52 564.49L363.92 559.68Z" fill="#0a0a0a" stroke="#0a0a0a" stroke-width="0.7" stroke-linejoin="round"/>
<path d="M372.85 565.23L378.04 565.23L375.44 560.43Z" fill="#0a0a0a" stroke="#0a0a0a" stroke-width="0.7" stroke-linejoin="round"/>
<path d="M384.37 566.61L389.56 566.61L386.96 561.80Z" fill="#0a0a0a" stroke="#0a0a0a" stroke-width="0.7" stroke-linejoin="round"/>
<path d="M395.89 566.61L401.08 566.61L398.49 561.80Z" fill="#0a0a0a" stroke="#0a0a0a" stroke-width="0.7" stroke-linejoin="round"/>
<path d="M407.41 561.31L412.60 561.31L410.01 556.50Z" fill="#0a0a0a" stroke="#0a0a0a" stroke-width="0.7" stroke-linejoin="round"/>
<path d="M418.93 563.43L424.12 563.43L421.53 558.62Z" fill="#0a0a0a" stroke="#0a0a0a" stroke-width="0.7" stroke-linejoin="round"/>
<path d="M430.45 561.31L435.65 561.31L433.05 556.50Z" fill="#0a0a0a" stroke="#0a0a0a" stroke-width="0.7" stroke-linejoin="round"/>
<path d="M441.98 566.08L447.17 566.08L444.57 561.27Z" fill="#0a0a0a" stroke="#0a0a0a" stroke-width="0.7" stroke-linejoin="round"/>
<path d="M453.50 563.96L458.69 563.96L456.09 559.15Z" fill="#0a0a0a" stroke="#0a0a0a" stroke-width="0.7" stroke-linejoin="round"/>
<path d="M465.02 562.37L470.21 562.37L467.61 557.56Z" fill="#0a0a0a" stroke="#0a0a0a" stroke-width="0.7" stroke-linejoin="round"/>
<path d="M476.54 566.61L481.73 566.61L479.14 561.80Z" fill="#0a0a0a" stroke="#0a0a0a" stroke-width="0.7" stroke-linejoin="round"/>
<path d="M488.06 564.49L493.25 564.49L490.66 559.68Z" fill="#0a0a0a" stroke="#0a0a0a" stroke-width="0.7" stroke-linejoin="round"/>
<path d="M499.58 565.55L504.77 565.55L502.18 560.74Z" fill="#0a0a0a" stroke="#0a0a0a" stroke-width="0.7" stroke-linejoin="round"/>
<path d="M511.10 562.68L516.30 562.68L513.70 557.88Z" fill="#0a0a0a" stroke="#0a0a0a" stroke-width="0.7" stroke-linejoin="round"/>
<path d="M352.40 559.84L363.92 561.22L375.44 559.21L386.96 554.01L398.49 552.10L410.01 558.25L421.53 560.16L433.05 555.92L444.57 550.62L456.09 560.16L467.61 552.74L479.14 551.68L490.66 555.39L502.18 553.80L513.70 554.33" fill="none" stroke="#111" stroke-width="0.95" stroke-dasharray="3.2 1.6"/>
<rect x="349.89" y="557.33" width="5.02" height="5.02" fill="#0a0a0a"/>
<rect x="361.41" y="558.71" width="5.02" height="5.02" fill="#0a0a0a"/>
<rect x="372.93" y="556.70" width="5.02" height="5.02" fill="#0a0a0a"/>
<rect x="384.46" y="551.50" width="5.02" height="5.02" fill="#0a0a0a"/>
<rect x="395.98" y="549.60" width="5.02" height="5.02" fill="#0a0a0a"/>
<rect x="407.50" y="555.74" width="5.02" height="5.02" fill="#0a0a0a"/>
<rect x="419.02" y="557.65" width="5.02" height="5.02" fill="#0a0a0a"/>
<rect x="430.54" y="553.41" width="5.02" height="5.02" fill="#0a0a0a"/>
<rect x="442.06" y="548.11" width="5.02" height="5.02" fill="#0a0a0a"/>
<rect x="453.58" y="557.65" width="5.02" height="5.02" fill="#0a0a0a"/>
<rect x="465.11" y="550.23" width="5.02" height="5.02" fill="#0a0a0a"/>
<rect x="476.63" y="549.17" width="5.02" height="5.02" fill="#0a0a0a"/>
<rect x="488.15" y="552.88" width="5.02" height="5.02" fill="#0a0a0a"/>
<rect x="499.67" y="551.29" width="5.02" height="5.02" fill="#0a0a0a"/>
<rect x="511.19" y="551.82" width="5.02" height="5.02" fill="#0a0a0a"/>
<path d="M352.40 553.48L363.92 558.25L375.44 556.34L386.96 552.85L398.49 551.68L410.01 554.01L421.53 557.30L433.05 551.68L444.57 551.68L456.09 556.98L467.61 548.50L479.14 551.68L490.66 554.86L502.18 553.80L513.70 551.68" fill="none" stroke="#111" stroke-width="0.95"/>
<path d="M349.80 553.48L352.40 550.97L355.00 553.48L352.40 555.99Z" fill="#0a0a0a" stroke="#0a0a0a" stroke-width="0.7" stroke-linejoin="round"/>
<path d="M361.33 558.25L363.92 555.74L366.52 558.25L363.92 560.76Z" fill="#0a0a0a" stroke="#0a0a0a" stroke-width="0.7" stroke-linejoin="round"/>
<path d="M372.85 556.34L375.44 553.84L378.04 556.34L375.44 558.85Z" fill="#0a0a0a" stroke="#0a0a0a" stroke-width="0.7" stroke-linejoin="round"/>
<path d="M384.37 552.85L386.96 550.34L389.56 552.85L386.96 555.35Z" fill="#0a0a0a" stroke="#0a0a0a" stroke-width="0.7" stroke-linejoin="round"/>
<path d="M395.89 551.68L398.49 549.17L401.08 551.68L398.49 554.19Z" fill="#0a0a0a" stroke="#0a0a0a" stroke-width="0.7" stroke-linejoin="round"/>
<path d="M407.41 554.01L410.01 551.50L412.60 554.01L410.01 556.52Z" fill="#0a0a0a" stroke="#0a0a0a" stroke-width="0.7" stroke-linejoin="round"/>
<path d="M418.93 557.30L421.53 554.79L424.12 557.30L421.53 559.81Z" fill="#0a0a0a" stroke="#0a0a0a" stroke-width="0.7" stroke-linejoin="round"/>
<path d="M430.45 551.68L433.05 549.17L435.65 551.68L433.05 554.19Z" fill="#0a0a0a" stroke="#0a0a0a" stroke-width="0.7" stroke-linejoin="round"/>
<path d="M441.98 551.68L444.57 549.17L447.17 551.68L444.57 554.19Z" fill="#0a0a0a" stroke="#0a0a0a" stroke-width="0.7" stroke-linejoin="round"/>
<path d="M453.50 556.98L456.09 554.47L458.69 556.98L456.09 559.49Z" fill="#0a0a0a" stroke="#0a0a0a" stroke-width="0.7" stroke-linejoin="round"/>
<path d="M465.02 548.50L467.61 545.99L470.21 548.50L467.61 551.01Z" fill="#0a0a0a" stroke="#0a0a0a" stroke-width="0.7" stroke-linejoin="round"/>
<path d="M476.54 551.68L479.14 549.17L481.73 551.68L479.14 554.19Z" fill="#0a0a0a" stroke="#0a0a0a" stroke-width="0.7" stroke-linejoin="round"/>
<path d="M488.06 554.86L490.66 552.35L493.25 554.86L490.66 557.37Z" fill="#0a0a0a" stroke="#0a0a0a" stroke-width="0.7" stroke-linejoin="round"/>
<path d="M499.58 553.80L502.18 551.29L504.77 553.80L502.18 556.31Z" fill="#0a0a0a" stroke="#0a0a0a" stroke-width="0.7" stroke-linejoin="round"/>
<path d="M511.10 551.68L513.70 549.17L516.30 551.68L513.70 554.19Z" fill="#0a0a0a" stroke="#0a0a0a" stroke-width="0.7" stroke-linejoin="round"/>
<path d="M352.40 666.76L363.92 668.88L375.44 669.20L386.96 666.76L398.49 670.26L410.01 670.26L421.53 669.62L433.05 669.94L444.57 668.88L456.09 668.88L467.61 668.88L479.14 671.00L490.66 669.41L502.18 669.41L513.70 670.47" fill="none" stroke="#111" stroke-width="0.95" stroke-dasharray="3.2 1.6"/>
<path d="M349.80 668.97L355.00 668.97L352.40 664.16Z" fill="#0a0a0a" stroke="#0a0a0a" stroke-width="0.7" stroke-linejoin="round"/>
<path d="M361.33 671.09L366.52 671.09L363.92 666.28Z" fill="#0a0a0a" stroke="#0a0a0a" stroke-width="0.7" stroke-linejoin="round"/>
<path d="M372.85 671.40L378.04 671.40L375.44 666.60Z" fill="#0a0a0a" stroke="#0a0a0a" stroke-width="0.7" stroke-linejoin="round"/>
<path d="M384.37 668.97L389.56 668.97L386.96 664.16Z" fill="#0a0a0a" stroke="#0a0a0a" stroke-width="0.7" stroke-linejoin="round"/>
<path d="M395.89 672.46L401.08 672.46L398.49 667.66Z" fill="#0a0a0a" stroke="#0a0a0a" stroke-width="0.7" stroke-linejoin="round"/>
<path d="M407.41 672.46L412.60 672.46L410.01 667.66Z" fill="#0a0a0a" stroke="#0a0a0a" stroke-width="0.7" stroke-linejoin="round"/>
<path d="M418.93 671.83L424.12 671.83L421.53 667.03Z" fill="#0a0a0a" stroke="#0a0a0a" stroke-width="0.7" stroke-linejoin="round"/>
<path d="M430.45 672.15L435.65 672.15L433.05 667.34Z" fill="#0a0a0a" stroke="#0a0a0a" stroke-width="0.7" stroke-linejoin="round"/>
<path d="M441.98 671.09L447.17 671.09L444.57 666.28Z" fill="#0a0a0a" stroke="#0a0a0a" stroke-width="0.7" stroke-linejoin="round"/>
<path d="M453.50 671.09L458.69 671.09L456.09 666.28Z" fill="#0a0a0a" stroke="#0a0a0a" stroke-width="0.7" stroke-linejoin="round"/>
<path d="M465.02 671.09L470.21 671.09L467.61 666.28Z" fill="#0a0a0a" stroke="#0a0a0a" stroke-width="0.7" stroke-linejoin="round"/>
<path d="M476.54 673.21L481.73 673.21L479.14 668.40Z" fill="#0a0a0a" stroke="#0a0a0a" stroke-width="0.7" stroke-linejoin="round"/>
<path d="M488.06 671.62L493.25 671.62L490.66 666.81Z" fill="#0a0a0a" stroke="#0a0a0a" stroke-width="0.7" stroke-linejoin="round"/>
<path d="M499.58 671.62L504.77 671.62L502.18 666.81Z" fill="#0a0a0a" stroke="#0a0a0a" stroke-width="0.7" stroke-linejoin="round"/>
<path d="M511.10 672.68L516.30 672.68L513.70 667.87Z" fill="#0a0a0a" stroke="#0a0a0a" stroke-width="0.7" stroke-linejoin="round"/>
<path d="M352.40 665.70L363.92 664.64L375.44 665.17L386.96 663.58L398.49 664.64L410.01 666.23L421.53 667.29L433.05 669.62L444.57 665.70L456.09 665.70L467.61 666.23L479.14 665.70L490.66 667.82L502.18 668.88L513.70 670.47" fill="none" stroke="#111" stroke-width="0.95" stroke-dasharray="3.2 1.6"/>
<rect x="349.89" y="663.19" width="5.02" height="5.02" fill="#0a0a0a"/>
<rect x="361.41" y="662.13" width="5.02" height="5.02" fill="#0a0a0a"/>
<rect x="372.93" y="662.66" width="5.02" height="5.02" fill="#0a0a0a"/>
<rect x="384.46" y="661.07" width="5.02" height="5.02" fill="#0a0a0a"/>
<rect x="395.98" y="662.13" width="5.02" height="5.02" fill="#0a0a0a"/>
<rect x="407.50" y="663.72" width="5.02" height="5.02" fill="#0a0a0a"/>
<rect x="419.02" y="664.78" width="5.02" height="5.02" fill="#0a0a0a"/>
<rect x="430.54" y="667.11" width="5.02" height="5.02" fill="#0a0a0a"/>
<rect x="442.06" y="663.19" width="5.02" height="5.02" fill="#0a0a0a"/>
<rect x="453.58" y="663.19" width="5.02" height="5.02" fill="#0a0a0a"/>
<rect x="465.11" y="663.72" width="5.02" height="5.02" fill="#0a0a0a"/>
<rect x="476.63" y="663.19" width="5.02" height="5.02" fill="#0a0a0a"/>
<rect x="488.15" y="665.31" width="5.02" height="5.02" fill="#0a0a0a"/>
<rect x="499.67" y="666.37" width="5.02" height="5.02" fill="#0a0a0a"/>
<rect x="511.19" y="667.96" width="5.02" height="5.02" fill="#0a0a0a"/>
<path d="M352.40 659.55L363.92 662.52L375.44 662.94L386.96 659.02L398.49 662.52L410.01 663.58L421.53 665.17L433.05 667.82L444.57 661.46L456.09 662.20L467.61 661.46L479.14 659.02L490.66 665.70L502.18 666.76L513.70 670.26" fill="none" stroke="#111" stroke-width="0.95"/>
<path d="M349.80 659.55L352.40 657.04L355.00 659.55L352.40 662.06Z" fill="#0a0a0a" stroke="#0a0a0a" stroke-width="0.7" stroke-linejoin="round"/>
<path d="M361.33 662.52L363.92 660.01L366.52 662.52L363.92 665.03Z" fill="#0a0a0a" stroke="#0a0a0a" stroke-width="0.7" stroke-linejoin="round"/>
<path d="M372.85 662.94L375.44 660.44L378.04 662.94L375.44 665.45Z" fill="#0a0a0a" stroke="#0a0a0a" stroke-width="0.7" stroke-linejoin="round"/>
<path d="M384.37 659.02L386.96 656.51L389.56 659.02L386.96 661.53Z" fill="#0a0a0a" stroke="#0a0a0a" stroke-width="0.7" stroke-linejoin="round"/>
<path d="M395.89 662.52L398.49 660.01L401.08 662.52L398.49 665.03Z" fill="#0a0a0a" stroke="#0a0a0a" stroke-width="0.7" stroke-linejoin="round"/>
<path d="M407.41 663.58L410.01 661.07L412.60 663.58L410.01 666.09Z" fill="#0a0a0a" stroke="#0a0a0a" stroke-width="0.7" stroke-linejoin="round"/>
<path d="M418.93 665.17L421.53 662.66L424.12 665.17L421.53 667.68Z" fill="#0a0a0a" stroke="#0a0a0a" stroke-width="0.7" stroke-linejoin="round"/>
<path d="M430.45 667.82L433.05 665.31L435.65 667.82L433.05 670.33Z" fill="#0a0a0a" stroke="#0a0a0a" stroke-width="0.7" stroke-linejoin="round"/>
<path d="M441.98 661.46L444.57 658.95L447.17 661.46L444.57 663.97Z" fill="#0a0a0a" stroke="#0a0a0a" stroke-width="0.7" stroke-linejoin="round"/>
<path d="M453.50 662.20L456.09 659.69L458.69 662.20L456.09 664.71Z" fill="#0a0a0a" stroke="#0a0a0a" stroke-width="0.7" stroke-linejoin="round"/>
<path d="M465.02 661.46L467.61 658.95L470.21 661.46L467.61 663.97Z" fill="#0a0a0a" stroke="#0a0a0a" stroke-width="0.7" stroke-linejoin="round"/>
<path d="M476.54 659.02L479.14 656.51L481.73 659.02L479.14 661.53Z" fill="#0a0a0a" stroke="#0a0a0a" stroke-width="0.7" stroke-linejoin="round"/>
<path d="M488.06 665.70L490.66 663.19L493.25 665.70L490.66 668.21Z" fill="#0a0a0a" stroke="#0a0a0a" stroke-width="0.7" stroke-linejoin="round"/>
<path d="M499.58 666.76L502.18 664.25L504.77 666.76L502.18 669.27Z" fill="#0a0a0a" stroke="#0a0a0a" stroke-width="0.7" stroke-linejoin="round"/>
<path d="M511.10 670.26L513.70 667.75L516.30 670.26L513.70 672.77Z" fill="#0a0a0a" stroke="#0a0a0a" stroke-width="0.7" stroke-linejoin="round"/>
<path d="M352.40 772.70L363.92 775.40L375.44 773.80L386.96 758.50L398.49 744.20L410.01 757.10L421.53 743.10L433.05 740.40L444.57 740.40L456.09 743.10L467.61 745.00L479.14 748.10L490.66 746.90L502.18 721.50L513.70 732.50" fill="none" stroke="#111" stroke-width="1.15" stroke-dasharray="3.2 1.6"/>
<path d="M349.45 775.21L355.35 775.21L352.40 769.75Z" fill="#0a0a0a" stroke="#0a0a0a" stroke-width="0.7" stroke-linejoin="round"/>
<path d="M360.97 777.91L366.87 777.91L363.92 772.45Z" fill="#0a0a0a" stroke="#0a0a0a" stroke-width="0.7" stroke-linejoin="round"/>
<path d="M372.49 776.31L378.39 776.31L375.44 770.85Z" fill="#0a0a0a" stroke="#0a0a0a" stroke-width="0.7" stroke-linejoin="round"/>
<path d="M384.01 761.01L389.91 761.01L386.96 755.55Z" fill="#0a0a0a" stroke="#0a0a0a" stroke-width="0.7" stroke-linejoin="round"/>
<path d="M395.54 746.71L401.44 746.71L398.49 741.25Z" fill="#0a0a0a" stroke="#0a0a0a" stroke-width="0.7" stroke-linejoin="round"/>
<path d="M407.06 759.61L412.96 759.61L410.01 754.15Z" fill="#0a0a0a" stroke="#0a0a0a" stroke-width="0.7" stroke-linejoin="round"/>
<path d="M418.58 745.61L424.48 745.61L421.53 740.15Z" fill="#0a0a0a" stroke="#0a0a0a" stroke-width="0.7" stroke-linejoin="round"/>
<path d="M430.10 742.91L436.00 742.91L433.05 737.45Z" fill="#0a0a0a" stroke="#0a0a0a" stroke-width="0.7" stroke-linejoin="round"/>
<path d="M441.62 742.91L447.52 742.91L444.57 737.45Z" fill="#0a0a0a" stroke="#0a0a0a" stroke-width="0.7" stroke-linejoin="round"/>
<path d="M453.14 745.61L459.04 745.61L456.09 740.15Z" fill="#0a0a0a" stroke="#0a0a0a" stroke-width="0.7" stroke-linejoin="round"/>
<path d="M464.66 747.51L470.56 747.51L467.61 742.05Z" fill="#0a0a0a" stroke="#0a0a0a" stroke-width="0.7" stroke-linejoin="round"/>
<path d="M476.19 750.61L482.09 750.61L479.14 745.15Z" fill="#0a0a0a" stroke="#0a0a0a" stroke-width="0.7" stroke-linejoin="round"/>
<path d="M487.71 749.41L493.61 749.41L490.66 743.95Z" fill="#0a0a0a" stroke="#0a0a0a" stroke-width="0.7" stroke-linejoin="round"/>
<path d="M499.23 724.01L505.13 724.01L502.18 718.55Z" fill="#0a0a0a" stroke="#0a0a0a" stroke-width="0.7" stroke-linejoin="round"/>
<path d="M510.75 735.01L516.65 735.01L513.70 729.55Z" fill="#0a0a0a" stroke="#0a0a0a" stroke-width="0.7" stroke-linejoin="round"/>
<path d="M352.40 771.90L363.92 766.70L375.44 760.00L386.96 736.30L398.49 721.50L410.01 707.70L421.53 718.30L433.05 718.30L444.57 715.20L456.09 712.90L467.61 724.40L479.14 717.10L490.66 717.10L502.18 733.10L513.70 723.50" fill="none" stroke="#111" stroke-width="1.15" stroke-dasharray="3.2 1.6"/>
<rect x="349.55" y="769.05" width="5.70" height="5.70" fill="#0a0a0a"/>
<rect x="361.07" y="763.85" width="5.70" height="5.70" fill="#0a0a0a"/>
<rect x="372.59" y="757.15" width="5.70" height="5.70" fill="#0a0a0a"/>
<rect x="384.11" y="733.45" width="5.70" height="5.70" fill="#0a0a0a"/>
<rect x="395.64" y="718.65" width="5.70" height="5.70" fill="#0a0a0a"/>
<rect x="407.16" y="704.85" width="5.70" height="5.70" fill="#0a0a0a"/>
<rect x="418.68" y="715.45" width="5.70" height="5.70" fill="#0a0a0a"/>
<rect x="430.20" y="715.45" width="5.70" height="5.70" fill="#0a0a0a"/>
<rect x="441.72" y="712.35" width="5.70" height="5.70" fill="#0a0a0a"/>
<rect x="453.24" y="710.05" width="5.70" height="5.70" fill="#0a0a0a"/>
<rect x="464.76" y="721.55" width="5.70" height="5.70" fill="#0a0a0a"/>
<rect x="476.29" y="714.25" width="5.70" height="5.70" fill="#0a0a0a"/>
<rect x="487.81" y="714.25" width="5.70" height="5.70" fill="#0a0a0a"/>
<rect x="499.33" y="730.25" width="5.70" height="5.70" fill="#0a0a0a"/>
<rect x="510.85" y="720.65" width="5.70" height="5.70" fill="#0a0a0a"/>
<path d="M352.40 765.80L363.92 764.80L375.44 756.20L386.96 715.80L398.49 689.20L410.01 688.50L421.53 685.00L433.05 681.70L444.57 677.30L456.09 676.90L467.61 691.70L479.14 686.50L490.66 686.00L502.18 675.80L513.70 678.30" fill="none" stroke="#111" stroke-width="1.15"/>
<path d="M349.45 765.80L352.40 762.95L355.35 765.80L352.40 768.65Z" fill="#0a0a0a" stroke="#0a0a0a" stroke-width="0.7" stroke-linejoin="round"/>
<path d="M360.97 764.80L363.92 761.95L366.87 764.80L363.92 767.65Z" fill="#0a0a0a" stroke="#0a0a0a" stroke-width="0.7" stroke-linejoin="round"/>
<path d="M372.49 756.20L375.44 753.35L378.39 756.20L375.44 759.05Z" fill="#0a0a0a" stroke="#0a0a0a" stroke-width="0.7" stroke-linejoin="round"/>
<path d="M384.01 715.80L386.96 712.95L389.91 715.80L386.96 718.65Z" fill="#0a0a0a" stroke="#0a0a0a" stroke-width="0.7" stroke-linejoin="round"/>
<path d="M395.54 689.20L398.49 686.35L401.44 689.20L398.49 692.05Z" fill="#0a0a0a" stroke="#0a0a0a" stroke-width="0.7" stroke-linejoin="round"/>
<path d="M407.06 688.50L410.01 685.65L412.96 688.50L410.01 691.35Z" fill="#0a0a0a" stroke="#0a0a0a" stroke-width="0.7" stroke-linejoin="round"/>
<path d="M418.58 685.00L421.53 682.15L424.48 685.00L421.53 687.85Z" fill="#0a0a0a" stroke="#0a0a0a" stroke-width="0.7" stroke-linejoin="round"/>
<path d="M430.10 681.70L433.05 678.85L436.00 681.70L433.05 684.55Z" fill="#0a0a0a" stroke="#0a0a0a" stroke-width="0.7" stroke-linejoin="round"/>
<path d="M441.62 677.30L444.57 674.45L447.52 677.30L444.57 680.15Z" fill="#0a0a0a" stroke="#0a0a0a" stroke-width="0.7" stroke-linejoin="round"/>
<path d="M453.14 676.90L456.09 674.05L459.04 676.90L456.09 679.75Z" fill="#0a0a0a" stroke="#0a0a0a" stroke-width="0.7" stroke-linejoin="round"/>
<path d="M464.66 691.70L467.61 688.85L470.56 691.70L467.61 694.55Z" fill="#0a0a0a" stroke="#0a0a0a" stroke-width="0.7" stroke-linejoin="round"/>
<path d="M476.19 686.50L479.14 683.65L482.09 686.50L479.14 689.35Z" fill="#0a0a0a" stroke="#0a0a0a" stroke-width="0.7" stroke-linejoin="round"/>
<path d="M487.71 686.00L490.66 683.15L493.61 686.00L490.66 688.85Z" fill="#0a0a0a" stroke="#0a0a0a" stroke-width="0.7" stroke-linejoin="round"/>
<path d="M499.23 675.80L502.18 672.95L505.13 675.80L502.18 678.65Z" fill="#0a0a0a" stroke="#0a0a0a" stroke-width="0.7" stroke-linejoin="round"/>
<path d="M510.75 678.30L513.70 675.45L516.65 678.30L513.70 681.15Z" fill="#0a0a0a" stroke="#0a0a0a" stroke-width="0.7" stroke-linejoin="round"/>
<text x="47.60" y="506.30" font-size="15.1" text-anchor="start" font-weight="normal" fill="#111" textLength="28.90" lengthAdjust="spacing">IL-3</text>
<text x="46.90" y="527.50" font-size="15.1" text-anchor="start" font-weight="normal" fill="#111" textLength="68.60" lengthAdjust="spacing">GM-CSF</text>
<line x1="34.30" y1="511.60" x2="38.80" y2="511.60" stroke="#111" stroke-width="0.9" />
<line x1="36.55" y1="509.40" x2="36.55" y2="513.90" stroke="#111" stroke-width="0.9" />
<line x1="34.50" y1="618.00" x2="40.50" y2="618.00" stroke="#111" stroke-width="1.0" />
<line x1="37.50" y1="615.00" x2="37.50" y2="621.00" stroke="#111" stroke-width="1.0" />
<text x="49.10" y="623.00" font-size="15.1" text-anchor="start" font-weight="normal" fill="#111" textLength="28.70" lengthAdjust="spacing">IL-3</text>
<line x1="35.00" y1="725.50" x2="41.20" y2="725.50" stroke="#111" stroke-width="1.0" />
<line x1="38.10" y1="722.40" x2="38.10" y2="728.60" stroke="#111" stroke-width="1.0" />
<text x="49.40" y="730.50" font-size="15.1" text-anchor="start" font-weight="normal" fill="#111" textLength="67.20" lengthAdjust="spacing">GM-CSF</text>
<text x="140.70" y="780.00" font-size="11.7" text-anchor="start" font-weight="normal" fill="#111" textLength="125.80" lengthAdjust="spacing" transform="rotate(-90 140.70 780.00)">Differentiated cells (%)</text>
<line x1="135.60" y1="468.30" x2="135.60" y2="640.50" stroke="#111" stroke-width="0.8" />
<path d="M130.60 468.30L140.60 468.30L135.60 459.50Z" fill="#0a0a0a"/>
<text x="163.20" y="803.80" font-size="12" text-anchor="start" font-weight="normal" fill="#111" textLength="66.60" lengthAdjust="spacing">Time (days)</text>
<line x1="233.80" y1="800.40" x2="504.60" y2="800.40" stroke="#111" stroke-width="0.9" />
<path d="M504.60 795.60L504.60 805.20L514.40 800.40Z" fill="#0a0a0a"/>
</svg>
</body></html>
